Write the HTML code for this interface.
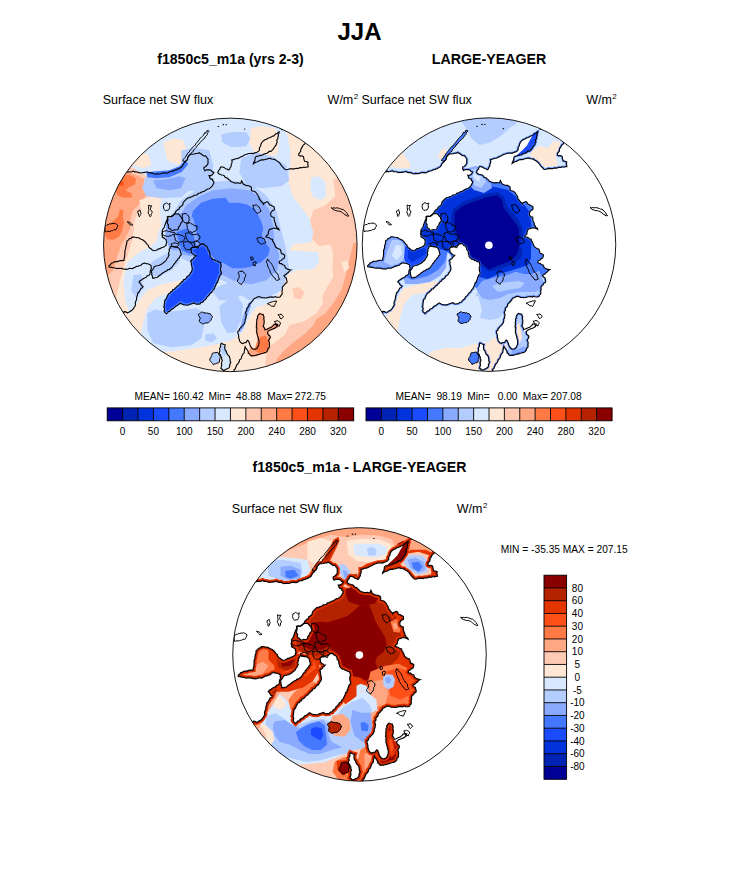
<!DOCTYPE html>
<html><head><meta charset="utf-8"><style>
html,body{margin:0;padding:0;background:#fff;width:733px;height:882px;overflow:hidden}
svg{position:absolute;left:0;top:0}
text{font-family:"Liberation Sans",sans-serif;fill:#000}
.t{font-weight:bold}
.lb{font-size:10px}
.mn{font-size:10.2px}
.st{font-size:12.5px}
</style></head><body>
<svg width="733" height="882" viewBox="0 0 733 882">

<text x="359.5" y="39.6" text-anchor="middle" class="t" style="font-size:24px">JJA</text>
<text x="230.5" y="64" text-anchor="middle" class="t" style="font-size:14.1px">f1850c5_m1a (yrs 2-3)</text>
<text x="489" y="64" text-anchor="middle" class="t" style="font-size:14.2px">LARGE-YEAGER</text>
<text x="359.5" y="472" text-anchor="middle" class="t" style="font-size:14.1px">f1850c5_m1a - LARGE-YEAGER</text>
<text x="102.7" y="103.5" class="st">Surface net SW flux</text>
<text x="327.6" y="103.5" class="st">W/m<tspan dx="0.4" dy="-4.6" style="font-size:8px">2</tspan></text>
<text x="361.4" y="103.5" class="st">Surface net SW flux</text>
<text x="586.2" y="103.5" class="st">W/m<tspan dx="0.4" dy="-4.6" style="font-size:8px">2</tspan></text>
<text x="231.8" y="513" class="st">Surface net SW flux</text>
<text x="456.8" y="513" class="st">W/m<tspan dx="0.4" dy="-4.6" style="font-size:8px">2</tspan></text>
<text x="134.55" y="399.9" class="mn">MEAN=</text>
<text x="172.40" y="399.9" class="mn">160.42</text>
<text x="208.55" y="399.9" class="mn">Min=</text>
<text x="236.05" y="399.9" class="mn">48.88</text>
<text x="267.35" y="399.9" class="mn">Max=</text>
<text x="294.85" y="399.9" class="mn">272.75</text>
<text x="395.55" y="399.9" class="mn">MEAN=</text>
<text x="436.45" y="399.9" class="mn">98.19</text>
<text x="467.25" y="399.9" class="mn">Min=</text>
<text x="497.65" y="399.9" class="mn">0.00</text>
<text x="522.85" y="399.9" class="mn">Max=</text>
<text x="550.55" y="399.9" class="mn">207.08</text>
<text x="500.8" y="553.2" class="mn" style="font-size:10.2px" xml:space="preserve">MIN = -35.35 MAX = 207.15</text>
<rect x="107.20" y="407.9" width="15.71" height="12.9" fill="#000096"/>
<rect x="122.61" y="407.9" width="15.71" height="12.9" fill="#0023b4"/>
<rect x="138.01" y="407.9" width="15.71" height="12.9" fill="#0033dc"/>
<rect x="153.42" y="407.9" width="15.71" height="12.9" fill="#1a4bff"/>
<rect x="168.82" y="407.9" width="15.71" height="12.9" fill="#4478ff"/>
<rect x="184.23" y="407.9" width="15.71" height="12.9" fill="#89aaff"/>
<rect x="199.64" y="407.9" width="15.71" height="12.9" fill="#b4cdff"/>
<rect x="215.04" y="407.9" width="15.71" height="12.9" fill="#d8e9ff"/>
<rect x="230.45" y="407.9" width="15.71" height="12.9" fill="#ffe7d6"/>
<rect x="245.86" y="407.9" width="15.71" height="12.9" fill="#ffcab3"/>
<rect x="261.26" y="407.9" width="15.71" height="12.9" fill="#ffa682"/>
<rect x="276.67" y="407.9" width="15.71" height="12.9" fill="#ff7a45"/>
<rect x="292.07" y="407.9" width="15.71" height="12.9" fill="#ff501a"/>
<rect x="307.48" y="407.9" width="15.71" height="12.9" fill="#e43400"/>
<rect x="322.89" y="407.9" width="15.71" height="12.9" fill="#b42200"/>
<rect x="338.29" y="407.9" width="15.71" height="12.9" fill="#8a0000"/>
<line x1="122.61" y1="407.9" x2="122.61" y2="420.79999999999995" stroke="#000" stroke-width="0.9"/>
<line x1="138.01" y1="407.9" x2="138.01" y2="420.79999999999995" stroke="#000" stroke-width="0.9"/>
<line x1="153.42" y1="407.9" x2="153.42" y2="420.79999999999995" stroke="#000" stroke-width="0.9"/>
<line x1="168.82" y1="407.9" x2="168.82" y2="420.79999999999995" stroke="#000" stroke-width="0.9"/>
<line x1="184.23" y1="407.9" x2="184.23" y2="420.79999999999995" stroke="#000" stroke-width="0.9"/>
<line x1="199.64" y1="407.9" x2="199.64" y2="420.79999999999995" stroke="#000" stroke-width="0.9"/>
<line x1="215.04" y1="407.9" x2="215.04" y2="420.79999999999995" stroke="#000" stroke-width="0.9"/>
<line x1="230.45" y1="407.9" x2="230.45" y2="420.79999999999995" stroke="#000" stroke-width="0.9"/>
<line x1="245.86" y1="407.9" x2="245.86" y2="420.79999999999995" stroke="#000" stroke-width="0.9"/>
<line x1="261.26" y1="407.9" x2="261.26" y2="420.79999999999995" stroke="#000" stroke-width="0.9"/>
<line x1="276.67" y1="407.9" x2="276.67" y2="420.79999999999995" stroke="#000" stroke-width="0.9"/>
<line x1="292.07" y1="407.9" x2="292.07" y2="420.79999999999995" stroke="#000" stroke-width="0.9"/>
<line x1="307.48" y1="407.9" x2="307.48" y2="420.79999999999995" stroke="#000" stroke-width="0.9"/>
<line x1="322.89" y1="407.9" x2="322.89" y2="420.79999999999995" stroke="#000" stroke-width="0.9"/>
<line x1="338.29" y1="407.9" x2="338.29" y2="420.79999999999995" stroke="#000" stroke-width="0.9"/>
<rect x="107.2" y="407.9" width="246.5" height="12.9" fill="none" stroke="#000" stroke-width="0.9"/>
<text x="122.61" y="434.70" text-anchor="middle" class="lb">0</text>
<text x="153.42" y="434.70" text-anchor="middle" class="lb">50</text>
<text x="184.23" y="434.70" text-anchor="middle" class="lb">100</text>
<text x="215.04" y="434.70" text-anchor="middle" class="lb">150</text>
<text x="245.86" y="434.70" text-anchor="middle" class="lb">200</text>
<text x="276.67" y="434.70" text-anchor="middle" class="lb">240</text>
<text x="307.48" y="434.70" text-anchor="middle" class="lb">280</text>
<text x="338.29" y="434.70" text-anchor="middle" class="lb">320</text>
<rect x="366.00" y="407.9" width="15.68" height="12.9" fill="#000096"/>
<rect x="381.38" y="407.9" width="15.68" height="12.9" fill="#0023b4"/>
<rect x="396.75" y="407.9" width="15.68" height="12.9" fill="#0033dc"/>
<rect x="412.12" y="407.9" width="15.68" height="12.9" fill="#1a4bff"/>
<rect x="427.50" y="407.9" width="15.68" height="12.9" fill="#4478ff"/>
<rect x="442.88" y="407.9" width="15.68" height="12.9" fill="#89aaff"/>
<rect x="458.25" y="407.9" width="15.68" height="12.9" fill="#b4cdff"/>
<rect x="473.62" y="407.9" width="15.68" height="12.9" fill="#d8e9ff"/>
<rect x="489.00" y="407.9" width="15.68" height="12.9" fill="#ffe7d6"/>
<rect x="504.38" y="407.9" width="15.68" height="12.9" fill="#ffcab3"/>
<rect x="519.75" y="407.9" width="15.68" height="12.9" fill="#ffa682"/>
<rect x="535.12" y="407.9" width="15.68" height="12.9" fill="#ff7a45"/>
<rect x="550.50" y="407.9" width="15.68" height="12.9" fill="#ff501a"/>
<rect x="565.88" y="407.9" width="15.68" height="12.9" fill="#e43400"/>
<rect x="581.25" y="407.9" width="15.68" height="12.9" fill="#b42200"/>
<rect x="596.62" y="407.9" width="15.68" height="12.9" fill="#8a0000"/>
<line x1="381.38" y1="407.9" x2="381.38" y2="420.79999999999995" stroke="#000" stroke-width="0.9"/>
<line x1="396.75" y1="407.9" x2="396.75" y2="420.79999999999995" stroke="#000" stroke-width="0.9"/>
<line x1="412.12" y1="407.9" x2="412.12" y2="420.79999999999995" stroke="#000" stroke-width="0.9"/>
<line x1="427.50" y1="407.9" x2="427.50" y2="420.79999999999995" stroke="#000" stroke-width="0.9"/>
<line x1="442.88" y1="407.9" x2="442.88" y2="420.79999999999995" stroke="#000" stroke-width="0.9"/>
<line x1="458.25" y1="407.9" x2="458.25" y2="420.79999999999995" stroke="#000" stroke-width="0.9"/>
<line x1="473.62" y1="407.9" x2="473.62" y2="420.79999999999995" stroke="#000" stroke-width="0.9"/>
<line x1="489.00" y1="407.9" x2="489.00" y2="420.79999999999995" stroke="#000" stroke-width="0.9"/>
<line x1="504.38" y1="407.9" x2="504.38" y2="420.79999999999995" stroke="#000" stroke-width="0.9"/>
<line x1="519.75" y1="407.9" x2="519.75" y2="420.79999999999995" stroke="#000" stroke-width="0.9"/>
<line x1="535.12" y1="407.9" x2="535.12" y2="420.79999999999995" stroke="#000" stroke-width="0.9"/>
<line x1="550.50" y1="407.9" x2="550.50" y2="420.79999999999995" stroke="#000" stroke-width="0.9"/>
<line x1="565.88" y1="407.9" x2="565.88" y2="420.79999999999995" stroke="#000" stroke-width="0.9"/>
<line x1="581.25" y1="407.9" x2="581.25" y2="420.79999999999995" stroke="#000" stroke-width="0.9"/>
<line x1="596.62" y1="407.9" x2="596.62" y2="420.79999999999995" stroke="#000" stroke-width="0.9"/>
<rect x="366.0" y="407.9" width="246.0" height="12.9" fill="none" stroke="#000" stroke-width="0.9"/>
<text x="381.38" y="434.70" text-anchor="middle" class="lb">0</text>
<text x="412.12" y="434.70" text-anchor="middle" class="lb">50</text>
<text x="442.88" y="434.70" text-anchor="middle" class="lb">100</text>
<text x="473.62" y="434.70" text-anchor="middle" class="lb">150</text>
<text x="504.38" y="434.70" text-anchor="middle" class="lb">200</text>
<text x="535.12" y="434.70" text-anchor="middle" class="lb">240</text>
<text x="565.88" y="434.70" text-anchor="middle" class="lb">280</text>
<text x="596.62" y="434.70" text-anchor="middle" class="lb">320</text>
<rect x="544.0" y="575.20" width="22.6" height="13.05" fill="#8a0000"/>
<rect x="544.0" y="587.95" width="22.6" height="13.05" fill="#b42200"/>
<rect x="544.0" y="600.70" width="22.6" height="13.05" fill="#e43400"/>
<rect x="544.0" y="613.45" width="22.6" height="13.05" fill="#ff501a"/>
<rect x="544.0" y="626.20" width="22.6" height="13.05" fill="#ff7a45"/>
<rect x="544.0" y="638.95" width="22.6" height="13.05" fill="#ffa682"/>
<rect x="544.0" y="651.70" width="22.6" height="13.05" fill="#ffcab3"/>
<rect x="544.0" y="664.45" width="22.6" height="13.05" fill="#ffe7d6"/>
<rect x="544.0" y="677.20" width="22.6" height="13.05" fill="#d8e9ff"/>
<rect x="544.0" y="689.95" width="22.6" height="13.05" fill="#b4cdff"/>
<rect x="544.0" y="702.70" width="22.6" height="13.05" fill="#89aaff"/>
<rect x="544.0" y="715.45" width="22.6" height="13.05" fill="#4478ff"/>
<rect x="544.0" y="728.20" width="22.6" height="13.05" fill="#1a4bff"/>
<rect x="544.0" y="740.95" width="22.6" height="13.05" fill="#0033dc"/>
<rect x="544.0" y="753.70" width="22.6" height="13.05" fill="#0023b4"/>
<rect x="544.0" y="766.45" width="22.6" height="13.05" fill="#000096"/>
<line x1="544.0" y1="587.95" x2="566.6" y2="587.95" stroke="#000" stroke-width="0.9"/>
<line x1="544.0" y1="600.70" x2="566.6" y2="600.70" stroke="#000" stroke-width="0.9"/>
<line x1="544.0" y1="613.45" x2="566.6" y2="613.45" stroke="#000" stroke-width="0.9"/>
<line x1="544.0" y1="626.20" x2="566.6" y2="626.20" stroke="#000" stroke-width="0.9"/>
<line x1="544.0" y1="638.95" x2="566.6" y2="638.95" stroke="#000" stroke-width="0.9"/>
<line x1="544.0" y1="651.70" x2="566.6" y2="651.70" stroke="#000" stroke-width="0.9"/>
<line x1="544.0" y1="664.45" x2="566.6" y2="664.45" stroke="#000" stroke-width="0.9"/>
<line x1="544.0" y1="677.20" x2="566.6" y2="677.20" stroke="#000" stroke-width="0.9"/>
<line x1="544.0" y1="689.95" x2="566.6" y2="689.95" stroke="#000" stroke-width="0.9"/>
<line x1="544.0" y1="702.70" x2="566.6" y2="702.70" stroke="#000" stroke-width="0.9"/>
<line x1="544.0" y1="715.45" x2="566.6" y2="715.45" stroke="#000" stroke-width="0.9"/>
<line x1="544.0" y1="728.20" x2="566.6" y2="728.20" stroke="#000" stroke-width="0.9"/>
<line x1="544.0" y1="740.95" x2="566.6" y2="740.95" stroke="#000" stroke-width="0.9"/>
<line x1="544.0" y1="753.70" x2="566.6" y2="753.70" stroke="#000" stroke-width="0.9"/>
<line x1="544.0" y1="766.45" x2="566.6" y2="766.45" stroke="#000" stroke-width="0.9"/>
<rect x="544.0" y="575.2" width="22.6" height="204.0" fill="none" stroke="#000" stroke-width="0.9"/>
<text x="577.4" y="591.55" text-anchor="middle" class="lb">80</text>
<text x="577.4" y="604.30" text-anchor="middle" class="lb">60</text>
<text x="577.4" y="617.05" text-anchor="middle" class="lb">40</text>
<text x="577.4" y="629.80" text-anchor="middle" class="lb">30</text>
<text x="577.4" y="642.55" text-anchor="middle" class="lb">20</text>
<text x="577.4" y="655.30" text-anchor="middle" class="lb">10</text>
<text x="577.4" y="668.05" text-anchor="middle" class="lb">5</text>
<text x="577.4" y="680.80" text-anchor="middle" class="lb">0</text>
<text x="577.4" y="693.55" text-anchor="middle" class="lb">-5</text>
<text x="577.4" y="706.30" text-anchor="middle" class="lb">-10</text>
<text x="577.4" y="719.05" text-anchor="middle" class="lb">-20</text>
<text x="577.4" y="731.80" text-anchor="middle" class="lb">-30</text>
<text x="577.4" y="744.55" text-anchor="middle" class="lb">-40</text>
<text x="577.4" y="757.30" text-anchor="middle" class="lb">-60</text>
<text x="577.4" y="770.05" text-anchor="middle" class="lb">-80</text>
<defs><clipPath id="cc"><circle cx="0" cy="0" r="126.75"/></clipPath>
<g id="land"><path d="M-189.0,-144.6 L-188.2,-143.5 L-187.2,-142.7 L-186.0,-142.2 L-184.8,-141.5 L-184.0,-140.4 L-182.9,-139.7 L-182.2,-138.5 L-180.9,-138.1 L-180.0,-137.1 L-179.1,-136.2 L-178.3,-135.1 L-177.0,-134.6 L-175.9,-133.9 L-175.2,-132.7 L-174.1,-132.0 L-172.9,-131.4 L-172.3,-130.0 L-171.4,-129.1 L-170.3,-128.5 L-169.3,-127.5 L-167.9,-127.2 L-167.2,-126.0 L-166.3,-125.0 L-165.2,-124.4 L-164.0,-123.7 L-162.8,-123.2 L-162.0,-122.1 L-161.1,-121.1 L-160.4,-120.0 L-159.4,-119.1 L-158.1,-118.7 L-157.3,-117.5 L-155.9,-117.2 L-155.3,-115.9 L-154.1,-115.3 L-152.7,-114.9 L-152.2,-113.5 L-151.0,-112.9 L-150.3,-111.7 L-149.2,-111.0 L-147.7,-110.7 L-147.1,-109.5 L-146.4,-108.3 L-144.9,-108.0 L-144.0,-107.1 L-143.4,-105.8 L-141.9,-105.6 L-141.2,-104.4 L-139.9,-103.9 L-139.4,-102.4 L-138.3,-101.7 L-137.1,-101.2 L-135.8,-100.6 L-135.0,-99.6 L-134.1,-98.6 L-133.4,-97.4 L-131.9,-97.3 L-131.2,-96.1 L-130.3,-95.1 L-129.2,-94.4 L-128.4,-93.3 L-127.2,-92.7 L-126.5,-91.5 L-125.2,-91.0 L-124.2,-90.2 L-123.1,-89.5 L-122.2,-88.5 L-121.1,-87.8 L-120.2,-86.8 L-119.0,-86.3 L-117.9,-85.5 L-116.9,-84.7 L-116.2,-83.5 L-115.3,-82.6 L-114.2,-81.9 L-112.9,-81.4 L-112.4,-80.0 L-111.4,-79.1 L-110.5,-78.2 L-109.4,-77.4 L-108.5,-76.5 L-107.5,-75.7 L-106.2,-75.2 L-105.1,-74.5 L-104.3,-73.4 L-103.2,-72.7 L-101.7,-73.2 L-100.0,-72.9 L-98.4,-73.1 L-96.9,-73.8 L-95.4,-73.0 L-93.7,-72.9 L-92.0,-72.6 L-90.6,-71.9 L-89.1,-72.2 L-87.6,-72.1 L-86.1,-72.5 L-84.5,-72.6 L-83.0,-73.1 L-81.5,-72.2 L-80.0,-72.0 L-78.3,-72.1 L-76.8,-71.1 L-75.0,-70.6 L-73.2,-71.2 L-71.3,-70.9 L-69.8,-71.2 L-68.4,-71.7 L-67.0,-72.1 L-65.4,-72.0 L-63.7,-71.7 L-62.1,-72.1 L-60.7,-73.1 L-59.0,-73.6 L-57.3,-73.8 L-55.8,-74.9 L-54.1,-75.0 L-53.0,-75.9 L-51.5,-76.0 L-50.5,-77.0 L-49.2,-77.5 L-48.1,-78.5 L-47.5,-79.9 L-46.6,-81.5 L-45.1,-82.4 L-44.6,-83.7 L-43.3,-84.5 L-42.6,-85.7 L-42.7,-87.4 L-41.8,-88.9 L-40.2,-90.6 L-37.7,-90.6 L-36.0,-90.9 L-34.4,-91.4 L-32.7,-91.4 L-31.2,-92.2 L-30.0,-91.4 L-28.7,-90.6 L-27.6,-89.6 L-26.3,-88.9 L-24.9,-89.0 L-23.8,-88.1 L-23.1,-86.8 L-22.2,-85.7 L-22.3,-84.3 L-22.3,-83.0 L-22.2,-81.6 L-22.9,-80.3 L-23.8,-79.1 L-25.0,-78.2 L-26.3,-77.5 L-26.4,-75.7 L-25.4,-74.2 L-23.9,-75.1 L-22.2,-75.0 L-20.4,-75.1 L-18.9,-74.2 L-17.9,-73.0 L-16.4,-72.6 L-17.0,-71.2 L-18.1,-70.1 L-19.6,-69.3 L-21.3,-69.3 L-20.6,-68.0 L-20.5,-66.6 L-19.2,-65.8 L-17.6,-65.6 L-17.7,-64.2 L-16.4,-63.1 L-16.5,-61.7 L-17.3,-60.5 L-17.9,-59.1 L-18.9,-58.0 L-20.0,-57.0 L-21.2,-56.1 L-22.7,-55.9 L-24.0,-55.1 L-25.2,-54.3 L-26.3,-53.5 L-27.7,-53.1 L-29.1,-52.6 L-30.4,-51.6 L-32.0,-51.6 L-33.1,-50.2 L-34.8,-49.6 L-36.4,-49.6 L-37.5,-48.3 L-39.0,-48.1 L-40.4,-47.3 L-42.1,-47.1 L-43.5,-46.2 L-45.1,-44.6 L-46.3,-43.4 L-47.2,-42.1 L-47.3,-40.3 L-48.5,-39.1 L-49.7,-38.2 L-50.9,-37.5 L-51.2,-35.8 L-52.6,-35.1 L-53.6,-34.2 L-54.6,-33.3 L-55.0,-31.9 L-56.0,-31.0 L-57.0,-29.9 L-58.3,-29.2 L-59.4,-28.2 L-60.8,-28.1 L-62.1,-28.2 L-62.5,-26.4 L-63.5,-24.8 L-64.2,-23.1 L-64.9,-21.4 L-65.2,-20.1 L-65.7,-18.9 L-66.0,-17.6 L-67.1,-16.1 L-68.1,-14.6 L-67.9,-13.2 L-67.9,-11.9 L-68.5,-10.5 L-67.8,-9.2 L-68.1,-7.8 L-66.0,-6.6 L-64.0,-5.0 L-64.1,-3.7 L-63.5,-2.3 L-64.3,-0.9 L-64.0,0.4 L-65.3,1.2 L-66.5,2.2 L-67.9,2.6 L-69.4,3.1 L-70.5,4.0 L-72.0,3.9 L-73.0,4.9 L-74.6,5.6 L-76.3,5.9 L-78.0,5.1 L-79.5,3.9 L-80.7,3.0 L-81.7,1.8 L-82.1,0.4 L-83.1,-0.5 L-84.0,-1.6 L-84.8,-2.7 L-85.8,-3.7 L-87.3,-4.9 L-89.0,-5.6 L-90.2,-6.2 L-91.3,-7.1 L-93.2,-7.3 L-95.0,-7.6 L-96.5,-7.9 L-98.1,-7.8 L-99.3,-6.5 L-101.0,-6.1 L-102.0,-4.7 L-103.5,-3.7 L-103.5,-2.3 L-103.6,-0.9 L-104.1,0.4 L-104.5,1.7 L-104.5,3.2 L-104.9,4.5 L-105.5,6.1 L-105.4,7.8 L-105.5,9.4 L-105.6,10.9 L-105.8,12.4 L-106.3,13.9 L-106.3,15.4 L-107.9,15.7 L-109.5,15.6 L-111.0,15.9 L-112.5,16.7 L-114.2,16.6 L-115.8,16.8 L-117.3,17.8 L-119.0,18.4 L-119.9,19.9 L-121.3,20.9 L-121.3,22.2 L-120.0,22.4 L-118.6,22.5 L-117.3,22.8 L-116.0,22.9 L-114.6,23.4 L-113.3,23.7 L-111.8,23.4 L-110.4,23.6 L-109.0,23.5 L-107.7,23.9 L-106.4,24.4 L-105.0,24.2 L-103.6,24.5 L-102.2,24.2 L-100.8,23.4 L-99.4,23.6 L-97.8,23.7 L-96.4,22.9 L-95.0,22.4 L-93.9,21.5 L-92.4,21.6 L-91.3,20.9 L-89.6,20.6 L-88.5,19.4 L-87.2,18.7 L-85.8,18.2 L-84.2,18.7 L-82.5,18.9 L-81.2,19.4 L-80.0,20.0 L-79.0,20.9 L-79.4,22.2 L-78.8,23.6 L-79.5,24.9 L-80.1,26.2 L-80.1,27.7 L-80.3,29.1 L-81.4,30.4 L-83.0,30.9 L-84.1,32.4 L-85.8,33.2 L-87.2,33.9 L-88.5,34.9 L-90.2,35.8 L-91.3,37.3 L-90.2,38.2 L-89.5,39.4 L-88.7,40.8 L-87.2,41.4 L-87.8,42.8 L-89.4,43.5 L-90.0,44.9 L-90.8,46.1 L-91.4,47.4 L-92.6,48.2 L-92.8,50.1 L-93.5,51.9 L-93.7,53.7 L-94.0,55.4 L-94.7,56.8 L-95.1,58.3 L-94.7,59.9 L-95.4,61.3 L-96.2,62.6 L-97.0,63.9 L-98.6,65.7 L-100.1,66.3 L-101.5,67.3 L-103.0,67.9 L-104.5,67.0 L-106.3,66.8 L-106.8,68.0 L-107.4,69.3 L-108.1,70.4 L-109.5,71.1 L-110.1,72.2 L-111.2,73.1 L-111.9,74.2 L-112.6,75.3 L-112.6,76.9 L-114.0,77.6 L-114.7,78.7 L-115.4,79.8 L-116.2,80.9 L-117.1,81.9 L-117.6,83.1 L-118.1,84.4 L-119.0,85.4 L-189.0,85.4Z"/><path d="M-63.0,-28.1 L-61.2,-28.6 L-59.4,-28.2 L-58.0,-28.7 L-57.0,-29.6 L-56.0,-30.6 L-54.7,-31.0 L-53.3,-30.9 L-52.0,-31.0 L-50.9,-30.0 L-50.0,-28.8 L-49.1,-27.7 L-47.8,-26.9 L-47.6,-25.4 L-47.8,-23.9 L-48.5,-22.6 L-49.6,-21.5 L-50.1,-19.9 L-51.0,-18.6 L-51.9,-17.6 L-51.9,-16.0 L-53.0,-15.1 L-54.5,-14.9 L-56.0,-15.1 L-57.5,-14.4 L-59.0,-14.6 L-59.9,-16.0 L-61.5,-16.6 L-62.1,-18.7 L-61.8,-20.1 L-62.9,-21.3 L-63.0,-22.7 L-62.6,-24.1 L-62.3,-25.5 L-63.0,-26.7Z"/><path d="M-12.5,-72.3 L-11.4,-71.1 L-10.0,-70.3 L-8.4,-69.9 L-7.0,-69.7 L-5.9,-69.0 L-5.1,-67.6 L-3.9,-67.0 L-2.6,-66.6 L-1.7,-65.4 L-0.3,-64.5 L0.6,-63.3 L1.8,-62.8 L3.1,-62.4 L4.3,-62.0 L5.6,-61.7 L7.2,-62.1 L8.9,-61.8 L10.5,-61.7 L11.3,-64.1 L12.2,-62.6 L12.9,-60.9 L14.3,-60.2 L15.6,-59.5 L17.1,-59.2 L18.7,-59.2 L19.9,-58.4 L21.1,-57.6 L21.2,-55.9 L21.1,-54.3 L22.4,-53.9 L23.8,-53.6 L25.0,-53.0 L26.0,-51.9 L26.8,-50.8 L27.5,-49.6 L28.3,-48.5 L28.8,-47.2 L28.9,-45.7 L29.9,-44.7 L30.7,-43.7 L31.5,-42.6 L32.6,-41.8 L33.2,-40.6 L34.0,-41.9 L35.3,-42.4 L36.5,-43.1 L37.8,-42.6 L38.5,-41.4 L39.2,-40.2 L40.6,-39.8 L42.1,-38.8 L43.8,-38.1 L44.1,-36.5 L43.8,-34.9 L42.5,-34.4 L41.5,-33.5 L40.6,-32.4 L40.3,-30.8 L40.6,-29.1 L42.0,-27.9 L43.8,-27.5 L43.8,-25.8 L44.0,-24.2 L44.6,-22.6 L45.3,-21.3 L45.2,-19.7 L46.3,-18.5 L46.7,-17.1 L48.2,-16.5 L48.7,-15.2 L47.2,-16.0 L45.5,-16.6 L43.8,-16.9 L42.2,-16.3 L40.5,-15.8 L38.9,-15.2 L38.6,-13.8 L37.9,-12.6 L38.1,-11.1 L37.3,-10.0 L36.1,-9.2 L35.6,-7.9 L37.3,-7.6 L38.9,-7.0 L40.4,-5.8 L42.2,-5.4 L42.3,-3.9 L43.3,-2.7 L43.8,-1.3 L44.6,0.1 L45.1,1.7 L46.3,2.8 L47.8,3.8 L49.6,4.4 L50.3,5.4 L50.7,7.0 L51.1,8.7 L52.9,9.2 L54.4,10.3 L54.2,12.0 L53.6,13.6 L52.1,14.2 L51.1,15.5 L49.5,16.0 L48.7,17.7 L49.7,18.7 L51.3,18.7 L52.2,19.9 L53.6,20.1 L54.6,21.0 L54.8,22.5 L55.8,23.3 L56.8,24.2 L58.2,24.5 L59.5,24.8 L60.9,25.0 L59.8,25.7 L58.8,26.6 L58.0,27.6 L56.8,28.3 L55.9,29.4 L54.7,30.0 L53.6,30.8 L54.5,32.3 L56.0,33.2 L56.3,34.9 L56.8,36.5 L56.4,37.9 L54.9,38.5 L54.4,39.8 L53.4,40.7 L52.4,41.7 L51.9,43.1 L52.2,44.7 L51.6,46.4 L51.9,48.0 L51.7,49.5 L50.5,50.6 L50.0,52.0 L48.7,52.3 L47.3,52.4 L46.0,52.2 L44.6,51.7 L43.2,52.5 L41.8,52.0 L40.4,52.2 L38.9,52.1 L37.5,52.7 L35.6,53.1 L33.7,52.9 L31.8,52.9 L30.0,52.2 L28.6,51.7 L27.1,52.0 L25.8,52.9 L24.2,53.5 L23.0,54.5 L22.6,55.8 L21.5,56.6 L20.8,57.8 L19.7,58.6 L18.7,59.9 L18.5,61.6 L17.3,62.7 L16.3,63.9 L16.6,65.6 L15.6,66.8 L15.3,68.4 L16.1,70.1 L15.6,71.7 L15.6,73.4 L14.7,74.9 L14.8,76.6 L14.3,78.2 L13.5,79.5 L12.4,80.7 L11.2,81.7 L10.3,83.0 L9.1,84.0 L9.0,85.5 L7.5,86.5 L7.5,88.1 L8.1,89.7 L8.5,91.3 L8.3,93.0 L9.0,94.3 L9.2,95.8 L9.9,97.1 L11.0,98.1 L12.4,98.7 L13.9,97.9 L15.6,97.9 L16.3,96.5 L17.3,95.4 L18.5,96.4 L18.9,97.9 L19.5,99.2 L19.8,100.7 L20.6,102.0 L21.6,103.4 L23.0,104.4 L24.8,104.4 L26.3,103.6 L27.3,102.5 L27.9,101.1 L28.6,99.5 L28.7,97.9 L28.7,96.2 L28.4,94.9 L27.8,93.7 L27.9,92.3 L27.2,91.0 L27.1,89.7 L26.4,88.1 L26.5,86.4 L26.3,84.8 L26.7,83.3 L25.9,81.9 L26.4,80.5 L26.3,79.0 L26.3,77.5 L26.6,76.1 L26.4,74.6 L27.4,73.2 L27.1,71.7 L28.1,70.0 L29.5,68.7 L31.1,69.3 L32.8,69.6 L33.1,70.9 L33.8,72.2 L33.4,73.7 L33.7,75.0 L33.9,76.7 L33.7,78.3 L33.5,79.9 L32.8,81.4 L33.7,82.4 L34.4,83.6 L34.6,85.0 L36.2,84.5 L37.6,83.8 L39.1,83.2 L40.6,82.7 L41.7,81.7 L42.9,80.8 L43.7,79.5 L45.5,79.2 L47.3,79.5 L46.4,81.9 L45.2,82.6 L44.1,83.5 L42.8,83.9 L41.2,84.5 L39.7,85.1 L38.2,85.9 L37.4,87.1 L37.3,88.6 L38.0,89.9 L39.3,90.8 L40.0,92.2 L39.5,93.5 L38.8,94.7 L38.2,95.9 L39.0,97.2 L39.2,98.5 L39.0,99.9 L39.1,101.3 L38.8,102.9 L37.5,103.9 L37.3,105.6 L36.4,106.8 L35.2,107.7 L33.8,108.0 L32.4,108.4 L31.0,108.6 L29.7,109.3 L28.2,109.5 L26.9,110.0 L25.5,110.4 L24.0,110.8 L22.5,110.6 L21.0,110.9 L19.8,110.3 L19.3,108.9 L18.0,108.4 L18.0,106.9 L17.2,105.6 L16.5,104.4 L15.6,103.2 L14.8,101.9 L14.5,103.4 L14.2,104.9 L14.0,106.4 L13.8,107.9 L12.8,108.9 L12.1,110.1 L11.5,111.4 L11.2,112.8 L10.6,114.1 L9.3,115.0 L9.0,116.4 L8.4,117.7 L7.5,118.9 L6.4,119.9 L6.0,121.4 L5.3,122.5 L5.0,123.9 L3.7,124.8 L3.7,126.3 L3.0,127.4 L3.5,128.7 L2.8,130.1 L3.4,131.4 L3.2,132.7 L2.6,134.1 L2.8,135.4 L3.5,136.7 L3.1,138.1 L3.1,139.4 L3.0,140.7 L3.3,142.1 L2.9,143.4 L3.5,144.7 L3.2,146.1 L3.1,147.4 L2.5,148.7 L3.5,150.1 L2.7,151.4 L3.3,152.7 L2.9,154.1 L3.1,155.4 L3.0,156.7 L2.7,158.1 L3.1,159.4 L3.4,160.7 L3.4,162.1 L3.5,163.4 L2.6,164.7 L2.8,166.1 L2.5,167.4 L2.8,168.7 L3.5,170.1 L2.8,171.4 L2.7,172.7 L2.8,174.1 L3.0,175.4 L211.0,175.4 L211.0,-144.6 L86.0,-144.6 L85.7,-143.3 L85.5,-142.0 L85.0,-140.7 L84.3,-139.5 L84.6,-138.1 L84.0,-136.9 L83.7,-135.6 L82.8,-134.4 L82.7,-133.1 L82.2,-131.8 L82.0,-130.5 L82.2,-129.1 L82.0,-127.8 L81.3,-126.6 L81.3,-125.2 L80.7,-124.0 L80.1,-122.8 L79.6,-121.5 L79.6,-120.2 L79.0,-118.9 L79.4,-117.4 L78.8,-116.2 L77.8,-115.1 L78.4,-113.6 L77.8,-112.4 L77.8,-111.0 L77.4,-109.7 L76.2,-108.6 L75.8,-107.4 L75.8,-106.0 L76.1,-104.6 L75.6,-103.3 L75.0,-102.1 L74.4,-100.8 L73.2,-100.0 L72.4,-98.9 L71.9,-97.7 L71.0,-96.6 L70.5,-95.2 L70.4,-93.6 L69.5,-92.4 L68.5,-91.1 L68.5,-89.5 L70.0,-88.8 L71.7,-89.1 L73.1,-88.3 L73.5,-86.8 L73.7,-85.2 L74.3,-83.7 L76.1,-83.4 L77.8,-82.5 L77.4,-81.0 L77.8,-79.4 L77.8,-77.9 L76.3,-77.9 L74.9,-77.4 L73.4,-77.8 L72.0,-77.1 L70.5,-77.3 L69.1,-77.0 L67.7,-76.4 L66.2,-76.7 L64.8,-76.4 L63.5,-75.8 L62.0,-76.1 L60.7,-76.0 L59.3,-76.2 L58.1,-75.6 L56.5,-75.1 L54.8,-75.3 L53.9,-76.4 L52.9,-77.4 L51.9,-78.5 L51.0,-79.6 L50.2,-80.8 L49.3,-82.0 L48.2,-82.9 L47.0,-83.8 L45.7,-84.4 L44.5,-85.5 L43.0,-85.6 L41.4,-85.9 L39.9,-86.5 L38.1,-86.4 L36.5,-85.8 L35.0,-85.6 L33.5,-85.0 L31.9,-85.0 L30.4,-84.8 L29.0,-84.1 L27.5,-83.2 L25.8,-82.9 L24.4,-82.1 L23.1,-81.1 L23.4,-82.4 L24.0,-83.6 L24.7,-84.7 L24.7,-86.1 L24.9,-87.4 L26.1,-88.5 L27.6,-88.6 L29.0,-89.1 L30.6,-89.5 L32.3,-89.9 L33.7,-90.9 L35.2,-91.3 L36.7,-91.7 L38.0,-92.6 L39.0,-93.7 L40.7,-93.4 L41.7,-94.5 L43.1,-95.9 L44.0,-97.6 L44.8,-98.8 L45.9,-100.0 L46.2,-101.5 L46.9,-102.9 L46.4,-104.6 L47.5,-106.0 L47.5,-107.6 L48.1,-108.9 L47.8,-110.4 L48.7,-111.7 L48.8,-113.1 L47.7,-112.4 L46.8,-111.3 L45.4,-111.1 L44.5,-110.1 L43.5,-109.0 L42.0,-108.7 L40.8,-107.8 L39.2,-107.1 L37.5,-106.6 L36.2,-105.6 L34.6,-105.1 L33.3,-104.2 L32.0,-103.1 L31.3,-101.9 L30.6,-100.7 L30.5,-99.3 L29.8,-98.1 L29.0,-96.8 L29.3,-95.3 L28.3,-93.7 L26.6,-92.7 L24.6,-92.1 L23.1,-91.3 L21.5,-91.6 L20.0,-91.4 L18.5,-91.4 L17.1,-90.9 L15.7,-90.4 L14.3,-90.1 L13.2,-89.2 L12.0,-88.6 L10.2,-87.9 L8.6,-86.8 L6.8,-86.3 L5.0,-86.1 L3.3,-85.3 L1.5,-85.0 L1.8,-83.1 L1.5,-81.5 L0.9,-80.1 L0.8,-78.4 L-0.2,-77.2 L-0.6,-75.7 L-1.8,-74.8 L-3.0,-75.8 L-4.7,-76.1 L-5.9,-77.2 L-7.5,-77.9 L-9.2,-78.1 L-10.1,-77.1 L-10.4,-75.7 L-11.3,-74.7 L-12.1,-73.6Z"/><path d="M-39.0,3.1 L-37.7,2.5 L-36.2,2.5 L-34.9,2.0 L-33.5,1.8 L-32.1,1.2 L-30.7,0.5 L-29.7,-0.7 L-28.1,-1.0 L-26.5,-0.8 L-25.5,0.7 L-24.0,1.1 L-23.1,2.2 L-22.4,3.4 L-22.4,5.0 L-21.3,6.0 L-20.6,7.2 L-20.7,8.9 L-20.1,10.4 L-19.9,12.0 L-18.7,13.5 L-17.2,14.7 L-15.7,14.8 L-14.5,15.8 L-13.1,16.1 L-11.6,17.2 L-9.7,17.5 L-9.4,19.2 L-9.0,20.9 L-9.7,22.7 L-9.8,24.6 L-9.5,26.4 L-8.9,28.1 L-9.1,29.5 L-10.4,30.4 L-10.7,31.7 L-11.4,33.1 L-11.7,34.7 L-12.5,36.1 L-12.6,37.5 L-14.0,38.3 L-14.2,39.7 L-14.8,41.2 L-15.6,42.5 L-16.0,44.1 L-17.2,45.0 L-18.0,46.3 L-18.7,47.6 L-20.2,48.5 L-21.0,50.1 L-22.2,51.2 L-23.4,52.2 L-24.0,53.6 L-24.9,54.7 L-26.5,55.7 L-27.5,57.4 L-29.2,57.6 L-30.3,59.0 L-32.0,59.2 L-33.4,59.4 L-34.7,59.1 L-35.9,58.0 L-37.3,58.3 L-38.7,59.0 L-40.3,59.4 L-41.7,60.1 L-43.2,60.3 L-44.7,60.1 L-46.2,60.1 L-47.4,59.6 L-48.6,59.0 L-49.7,58.3 L-51.0,59.1 L-52.2,60.0 L-53.3,60.9 L-54.7,61.4 L-55.8,62.5 L-56.8,63.6 L-58.3,64.1 L-59.4,65.1 L-60.4,66.3 L-61.9,66.7 L-62.8,67.9 L-63.9,68.9 L-65.7,67.2 L-66.3,65.9 L-65.8,64.4 L-65.9,63.1 L-66.6,61.8 L-65.9,60.5 L-66.1,59.2 L-65.7,57.9 L-65.7,56.5 L-65.3,55.0 L-64.0,54.0 L-63.6,52.6 L-63.0,51.2 L-62.3,50.0 L-61.6,48.7 L-60.1,48.1 L-59.5,46.8 L-58.0,46.3 L-57.5,44.6 L-55.9,44.4 L-55.0,43.2 L-53.9,42.2 L-52.9,41.1 L-51.5,40.5 L-50.8,39.2 L-49.5,38.3 L-48.8,37.0 L-47.4,36.4 L-46.8,34.8 L-45.3,34.3 L-44.0,33.2 L-43.2,31.6 L-41.7,30.8 L-40.6,29.7 L-40.1,28.3 L-39.1,27.2 L-38.4,25.8 L-38.0,24.4 L-38.2,22.8 L-38.6,21.0 L-39.1,19.3 L-38.9,17.6 L-39.7,16.1 L-38.5,14.9 L-37.0,14.0 L-36.4,12.6 L-35.0,11.8 L-34.2,10.6 L-35.7,10.4 L-36.8,9.5 L-37.8,8.7 L-39.0,7.9 L-38.9,6.3 L-39.4,4.7Z"/><path d="M-59.9,1.8 L-58.6,1.6 L-57.3,1.5 L-56.0,2.0 L-54.5,2.3 L-53.0,2.4 L-51.7,3.1 L-50.4,4.5 L-50.0,6.4 L-49.4,8.2 L-49.0,10.0 L-50.4,11.2 L-51.0,12.9 L-52.3,13.9 L-53.1,15.4 L-54.2,16.2 L-54.6,17.6 L-55.7,18.4 L-56.5,19.4 L-57.2,20.6 L-57.9,21.7 L-58.7,22.8 L-59.9,23.6 L-60.9,24.6 L-62.6,24.7 L-63.5,25.9 L-65.3,26.5 L-66.7,27.7 L-68.3,28.5 L-69.5,29.9 L-71.0,30.6 L-72.2,31.8 L-73.5,32.6 L-75.0,32.8 L-76.3,33.2 L-77.6,33.2 L-77.9,31.5 L-78.5,29.9 L-78.5,28.1 L-79.0,26.3 L-77.8,25.1 L-76.9,23.8 L-76.3,22.2 L-74.8,21.1 L-73.0,20.9 L-71.2,20.3 L-69.4,19.5 L-67.8,18.6 L-66.5,17.4 L-65.2,16.4 L-64.0,15.4 L-63.6,14.0 L-62.5,12.9 L-61.9,11.4 L-61.2,10.0 L-61.8,8.8 L-61.5,7.4 L-60.9,6.0 L-61.2,4.5 L-60.2,3.3Z"/><path d="M-9.0,98.4 L-7.7,99.0 L-6.4,99.6 L-5.0,99.9 L-5.6,101.6 L-5.5,103.4 L-5.2,105.1 L-4.0,106.4 L-3.6,107.9 L-3.1,109.3 L-2.0,110.4 L-0.8,111.7 L-0.5,113.4 L-0.1,114.7 L-0.3,116.2 L0.5,117.4 L0.0,118.7 L-0.6,120.0 L-0.5,121.4 L-1.4,123.0 L-3.0,123.9 L-4.3,124.4 L-5.6,125.2 L-7.0,125.4 L-8.2,124.4 L-9.5,123.4 L-8.9,121.7 L-8.5,119.9 L-8.9,118.3 L-8.5,116.9 L-8.0,115.4 L-8.7,114.2 L-8.6,112.6 L-9.5,111.4 L-9.7,110.0 L-10.9,108.9 L-11.0,107.4 L-10.3,105.8 L-10.7,104.0 L-10.0,102.4 L-9.5,101.1 L-9.7,99.6Z"/></g>
<g id="outl"><path d="M-47.5,-84.1 L-47.0,-85.4 L-46.0,-86.5 L-45.1,-87.5 L-44.4,-88.7 L-43.6,-89.8 L-43.0,-91.1 L-42.2,-92.1 L-41.1,-92.9 L-40.4,-94.1 L-39.8,-95.3 L-38.7,-96.1 L-38.1,-97.3 L-37.0,-98.1 L-35.9,-98.9 L-35.0,-99.9 L-34.5,-101.2 L-33.7,-102.2 L-32.6,-103.0 L-32.0,-104.3 L-31.0,-105.1 L-30.4,-106.2 L-29.6,-107.1 L-28.7,-108.0 L-27.8,-108.7 L-26.8,-109.5 L-26.5,-110.8 L-25.5,-111.6 L-24.2,-112.3 L-23.3,-113.6 L-22.2,-114.6 L-21.2,-113.6 L-22.2,-112.6 L-22.8,-111.5 L-23.1,-110.1 L-24.0,-109.1 L-25.0,-108.2 L-25.6,-106.9 L-26.5,-105.8 L-27.6,-105.0 L-28.7,-104.2 L-29.5,-103.1 L-30.3,-102.2 L-30.9,-101.1 L-32.1,-100.5 L-32.9,-99.6 L-33.3,-98.3 L-34.2,-97.5 L-35.0,-96.6 L-35.9,-95.7 L-36.8,-94.8 L-37.1,-93.4 L-38.2,-92.6 L-39.2,-91.8 L-39.8,-90.7 L-40.5,-89.6 L-41.4,-88.6 L-42.2,-87.6 L-42.8,-86.4 L-43.4,-85.2 L-44.3,-84.2 L-45.0,-83.1 L-46.2,-83.6Z"/><path d="M-125.5,-18.6 L-124.3,-19.2 L-123.4,-20.1 L-121.9,-20.1 L-121.0,-21.1 L-119.7,-20.9 L-118.5,-21.4 L-117.2,-21.3 L-116.0,-21.6 L-114.7,-21.1 L-113.6,-20.5 L-112.5,-19.6 L-112.8,-18.2 L-113.6,-17.0 L-114.0,-15.6 L-115.2,-15.0 L-116.6,-15.2 L-117.7,-14.1 L-119.0,-14.1 L-120.2,-13.7 L-121.3,-13.4 L-122.6,-13.7 L-123.8,-13.2 L-125.0,-13.1 L-125.1,-14.5 L-125.4,-15.8 L-125.3,-17.2Z"/><path d="M-103.0,-23.1 L-101.4,-22.9 L-100.0,-22.1 L-98.8,-21.0 L-97.5,-20.1 L-98.7,-19.7 L-100.0,-19.8 L-100.9,-21.0 L-101.9,-22.1Z"/><path d="M-92.5,-33.6 L-91.3,-34.0 L-90.5,-35.1 L-90.0,-33.9 L-89.8,-32.7 L-89.2,-31.6 L-90.0,-30.5 L-90.2,-29.2 L-91.0,-28.1 L-91.7,-29.4 L-91.7,-30.9 L-92.4,-32.1Z"/><path d="M-82.0,-39.6 L-80.3,-39.0 L-78.5,-39.1 L-79.3,-38.1 L-79.7,-36.8 L-80.0,-35.6 L-79.2,-34.7 L-78.6,-33.7 L-78.0,-32.6 L-78.7,-31.5 L-79.2,-30.4 L-79.1,-29.1 L-80.0,-28.1 L-80.9,-29.1 L-81.1,-30.6 L-82.0,-31.6 L-82.1,-33.0 L-81.5,-34.3 L-81.5,-35.6 L-81.8,-36.9 L-81.7,-38.3Z"/><path d="M-66.5,-40.6 L-65.1,-41.1 L-64.0,-42.1 L-62.9,-41.4 L-62.0,-40.6 L-60.2,-41.6 L-60.5,-40.3 L-60.8,-39.0 L-60.5,-37.6 L-61.1,-36.0 L-62.0,-34.6 L-63.5,-34.6 L-65.0,-34.1 L-66.0,-35.3 L-66.7,-36.6 L-66.9,-37.9 L-66.7,-39.3Z"/><path d="M-32.0,69.4 L-30.9,68.9 L-29.8,68.3 L-29.0,67.4 L-27.6,67.2 L-26.4,68.1 L-25.0,67.9 L-23.8,68.4 L-22.4,68.1 L-21.3,68.9 L-20.0,68.9 L-19.2,70.3 L-18.0,71.4 L-18.1,72.6 L-19.0,73.6 L-19.0,74.9 L-19.9,76.0 L-21.0,76.9 L-22.0,77.9 L-23.2,78.0 L-24.4,78.1 L-25.6,78.3 L-26.8,78.9 L-28.0,78.9 L-29.0,78.1 L-30.2,77.5 L-31.0,76.4 L-30.7,74.8 L-30.0,73.4 L-30.7,72.1 L-31.6,70.9Z"/><path d="M8.0,27.4 L9.3,26.7 L10.7,26.5 L12.0,25.9 L12.6,27.0 L13.7,27.7 L14.6,28.5 L15.5,29.4 L15.3,30.6 L15.2,31.9 L14.2,32.9 L14.1,34.2 L14.0,35.4 L13.4,36.6 L12.4,37.6 L11.6,38.7 L11.0,39.9 L10.2,38.8 L8.9,38.3 L7.9,37.4 L7.0,36.4 L7.3,35.1 L8.1,33.9 L8.8,32.8 L9.0,31.4 L8.8,30.0 L8.1,28.8Z"/><path d="M37.0,14.2 L38.2,15.0 L38.8,16.5 L39.8,17.6 L41.0,18.4 L41.6,19.5 L42.2,20.7 L42.7,21.8 L43.3,22.9 L43.7,24.1 L44.0,25.4 L45.0,26.3 L45.4,27.6 L46.6,28.2 L47.4,29.2 L48.0,30.4 L48.1,31.8 L48.6,33.2 L49.4,34.4 L47.8,35.2 L46.0,35.4 L45.1,34.5 L44.6,33.1 L43.4,32.5 L42.7,31.3 L42.0,30.3 L41.0,29.4 L40.6,28.2 L39.7,27.2 L39.7,25.8 L39.2,24.6 L38.5,23.6 L38.0,22.4 L37.4,21.2 L37.2,19.8 L36.9,18.5 L36.0,17.4 L36.8,15.9Z"/><path d="M-18.0,108.4 L-16.8,108.0 L-15.5,107.9 L-14.2,107.7 L-13.0,107.4 L-12.0,108.2 L-11.5,109.4 L-11.0,110.6 L-10.0,111.4 L-10.2,112.6 L-10.4,113.8 L-10.8,115.0 L-10.8,116.2 L-11.0,117.4 L-12.1,118.1 L-13.5,118.1 L-14.5,119.1 L-15.9,119.1 L-17.0,119.9 L-17.6,118.6 L-18.7,117.6 L-19.6,116.5 L-20.5,115.4 L-20.4,114.1 L-19.9,113.0 L-19.0,112.0 L-18.7,110.8 L-18.3,109.6Z"/><path d="M101.0,-37.1 L102.4,-36.7 L103.8,-37.1 L105.2,-36.7 L106.6,-37.1 L108.0,-36.8 L109.2,-36.4 L110.5,-36.1 L111.6,-35.4 L112.9,-35.4 L114.0,-34.6 L115.0,-33.5 L115.9,-32.5 L117.0,-31.5 L117.4,-30.0 L118.5,-29.1 L117.0,-28.6 L116.2,-29.6 L114.8,-29.9 L114.1,-30.9 L113.0,-31.6 L112.0,-32.3 L111.0,-33.1 L109.7,-33.5 L108.4,-33.9 L107.0,-33.9 L105.6,-34.3 L104.3,-34.8 L103.0,-35.1 L102.3,-36.4Z"/><path d="M22.5,-39.6 L24.3,-39.6 L26.0,-40.1 L27.1,-39.4 L27.8,-38.2 L29.0,-37.6 L29.6,-36.3 L30.2,-35.0 L30.7,-33.6 L29.4,-33.0 L28.4,-32.0 L27.0,-31.6 L25.8,-32.4 L25.0,-33.6 L24.0,-34.6 L23.4,-35.8 L23.4,-37.1 L22.8,-38.3Z"/><path d="M26.6,-6.6 L27.7,-7.0 L28.9,-7.3 L30.0,-7.9 L31.3,-7.2 L32.6,-6.6 L34.0,-6.1 L34.2,-4.8 L34.9,-3.7 L35.6,-2.6 L34.6,-1.9 L33.4,-1.4 L32.2,-1.1 L31.0,-0.6 L30.0,-1.2 L29.2,-2.2 L28.0,-2.6 L27.7,-4.0 L27.0,-5.3Z"/><path d="M20.0,12.4 L22.0,11.9 L22.8,13.0 L23.0,14.4 L21.0,15.4 L20.8,13.8Z"/><path d="M23.0,17.4 L24.3,16.9 L25.7,16.9 L25.8,18.3 L25.1,19.5 L25.0,20.9 L23.0,20.4 L22.8,18.9Z"/><path d="M44.3,76.4 L45.7,76.4 L47.0,75.8 L48.1,76.3 L49.2,76.9 L50.0,77.9 L50.0,79.2 L49.1,80.2 L49.0,81.4 L47.5,80.9 L46.0,80.9 L45.9,79.6 L45.3,78.6 L44.8,77.5Z"/><path d="M47.6,69.9 L49.4,69.8 L51.0,69.2 L52.1,70.6 L53.3,71.9 L52.0,72.9 L51.0,74.1 L49.8,73.3 L49.4,71.9 L48.6,70.8Z"/><path d="M37.0,58.9 L38.2,58.2 L39.4,57.7 L40.7,57.3 L42.0,56.9 L43.3,56.4 L44.8,56.3 L46.2,56.1 L46.0,57.4 L45.2,58.4 L44.7,59.6 L44.3,60.8 L43.7,61.9 L42.6,61.2 L41.1,61.2 L40.0,60.4 L38.7,59.3Z"/><path d="M-48.0,-31.1 L-46.7,-30.9 L-45.3,-31.4 L-44.0,-31.1 L-42.8,-30.1 L-41.9,-28.8 L-41.0,-27.6 L-41.3,-26.2 L-41.1,-24.8 L-41.7,-23.5 L-41.5,-22.1 L-42.8,-22.2 L-44.2,-22.1 L-45.5,-22.1 L-46.4,-23.3 L-47.5,-24.5 L-48.5,-25.6 L-48.4,-27.0 L-48.0,-28.3 L-48.0,-29.7Z"/><path d="M-43.7,-21.6 L-42.4,-21.4 L-41.3,-22.2 L-40.0,-22.1 L-39.1,-21.2 L-38.0,-20.7 L-37.0,-20.1 L-35.8,-19.2 L-34.3,-19.1 L-33.0,-18.6 L-33.3,-17.3 L-33.3,-15.9 L-34.0,-14.6 L-35.3,-13.7 L-36.9,-13.2 L-38.0,-12.1 L-39.2,-13.0 L-40.7,-12.9 L-42.0,-13.6 L-42.1,-15.0 L-42.9,-16.2 L-43.0,-17.6 L-43.2,-18.9 L-43.5,-20.3Z"/><path d="M-45.0,-11.6 L-43.7,-11.7 L-42.4,-12.0 L-41.0,-11.9 L-39.8,-11.0 L-38.4,-10.6 L-37.0,-10.1 L-35.6,-10.4 L-34.2,-10.4 L-33.0,-11.1 L-31.8,-10.3 L-31.2,-8.9 L-30.0,-8.1 L-30.5,-6.8 L-31.2,-5.7 L-32.0,-4.6 L-33.2,-3.9 L-34.6,-3.6 L-35.9,-3.2 L-37.0,-2.3 L-38.2,-2.8 L-39.5,-2.8 L-40.8,-3.0 L-42.0,-3.6 L-42.8,-4.7 L-43.5,-5.8 L-44.0,-7.1 L-44.3,-8.6 L-44.7,-10.1Z"/><path d="M-56.0,-10.1 L-54.7,-10.6 L-53.3,-10.4 L-52.0,-10.6 L-50.6,-10.3 L-49.4,-9.6 L-48.0,-9.6 L-47.1,-8.7 L-46.0,-7.9 L-45.0,-7.1 L-46.0,-6.1 L-46.2,-4.7 L-47.0,-3.6 L-48.3,-3.5 L-49.5,-2.9 L-50.8,-2.8 L-52.0,-2.3 L-52.8,-3.4 L-53.9,-4.0 L-55.0,-4.6 L-55.2,-6.0 L-55.3,-7.4 L-56.1,-8.7Z"/><path d="M-47.0,-2.6 L-45.7,-2.9 L-44.3,-3.1 L-43.0,-3.4 L-41.6,-2.9 L-40.5,-1.9 L-39.0,-1.6 L-38.5,-0.5 L-37.8,0.5 L-37.0,1.4 L-38.0,2.6 L-39.2,3.6 L-40.0,4.9 L-41.3,4.7 L-42.7,4.8 L-44.0,4.9 L-45.1,3.9 L-45.7,2.6 L-46.5,1.4 L-46.3,0.0 L-46.8,-1.3Z"/><path d="M-36.5,-3.1 L-34.8,-3.7 L-33.0,-3.6 L-31.8,-3.0 L-31.0,-2.0 L-30.0,-1.1 L-30.4,0.4 L-31.6,1.6 L-32.0,3.1 L-33.3,3.0 L-34.3,2.3 L-35.5,1.9 L-35.9,0.7 L-35.7,-0.7 L-36.5,-1.8Z"/><path d="M-68.0,-13.6 L-66.7,-13.4 L-65.5,-13.8 L-64.3,-14.2 L-63.0,-14.1 L-61.9,-13.4 L-60.5,-13.4 L-59.3,-12.8 L-58.0,-12.6 L-56.4,-12.5 L-55.0,-11.6 L-56.2,-10.5 L-57.9,-10.3 L-59.0,-9.1 L-60.3,-9.2 L-61.5,-8.5 L-62.7,-8.7 L-64.0,-8.6 L-65.2,-9.0 L-66.4,-9.4 L-67.5,-10.1 L-68.1,-11.8Z"/><path d="M-59.0,-1.1 L-57.6,-1.1 L-56.4,-2.0 L-55.0,-2.1 L-53.8,-1.4 L-52.3,-1.2 L-51.0,-0.6 L-52.1,0.5 L-53.0,1.9 L-54.2,2.0 L-55.5,1.8 L-56.8,1.8 L-58.0,1.9 L-58.9,0.5Z"/></g>
<g id="dots"><ellipse cx="-11.9" cy="-118.4" rx="0.9" ry="0.5"/><ellipse cx="-7.0" cy="-120.2" rx="0.8" ry="0.6"/><ellipse cx="-4.1" cy="-120.2" rx="0.7" ry="0.6"/><ellipse cx="14.4" cy="-115.9" rx="0.8" ry="0.6"/><ellipse cx="51.5" cy="-115.3" rx="0.9" ry="0.6"/><ellipse cx="-25.5" cy="-112.1" rx="0.8" ry="0.6"/><ellipse cx="-23.5" cy="-113.8" rx="0.7" ry="0.5"/></g></defs>
<g transform="translate(230.3,244.9)"><g clip-path="url(#cc)">
<rect x="-130" y="-130" width="260" height="260" fill="#ffe7d6"/>
<path d="M103.0,-66.6 L113.0,-66.6 L123.0,-54.6 L131.0,-39.6 L151.0,-39.6 L151.0,155.4 L31.0,155.4 L37.0,102.4 L44.0,98.4 L55.0,89.4 L59.0,80.4 L74.0,76.4 L86.0,68.4 L93.0,58.4 L92.0,51.4 L96.0,43.4 L103.0,32.4 L102.0,20.4 L103.0,9.4 L100.0,-0.6 L89.0,1.4 L81.0,-6.6 L79.0,-20.6 L83.0,-34.6 L95.0,-39.6 L105.0,-48.6Z" fill="#ffcab3" />
<path d="M151.0,-6.6 L123.0,-1.6 L121.0,6.9 L115.0,32.0 L111.0,45.4 L103.0,58.4 L95.0,68.4 L86.0,74.4 L83.0,80.4 L74.0,89.4 L62.0,98.4 L52.0,107.4 L47.0,113.4 L41.0,135.4 L151.0,135.4Z" fill="#ffa682" />
<path d="M62.0,43.4 L69.0,42.4 L74.0,47.4 L71.0,54.4 L64.0,53.4Z" fill="#ffcab3" />
<path d="M111.0,17.4 L117.0,15.4 L119.0,23.4 L114.0,27.4Z" fill="#ffe7d6" />
<path d="M-134.0,-84.6 L-88.3,-74.5 L-78.3,-66.3 L-77.3,-52.7 L-82.0,-41.8 L-91.0,-34.5 L-95.5,-25.5 L-96.4,-16.4 L-97.4,-7.3 L-101.0,5.4 L-105.0,17.4 L-109.0,30.4 L-113.0,47.4 L-117.0,65.4 L-134.0,75.4Z" fill="#ffcab3" />
<path d="M-134.0,-78.6 L-100.1,-72.1 L-86.5,-66.3 L-82.0,-52.7 L-88.3,-43.6 L-97.4,-34.5 L-100.1,-25.5 L-100.1,-16.4 L-104.6,-7.3 L-109.1,0.0 L-113.0,11.4 L-117.0,25.4 L-134.0,40.4Z" fill="#ffa682" />
<path d="M-112.0,-69.6 L-101.0,-70.1 L-94.5,-66.6 L-95.0,-60.6 L-101.0,-57.6 L-105.0,-54.6 L-99.0,-51.6 L-98.0,-47.6 L-107.0,-47.1 L-113.0,-49.6 L-115.0,-56.6 L-114.0,-63.6Z" fill="#ff7a45" />
<path d="M-111.0,-63.6 L-106.4,-63.1 L-107.0,-59.0 L-111.0,-59.6Z" fill="#ff501a" />
<path d="M-110.5,-35.6 L-107.0,-34.6 L-107.5,-28.6 L-106.4,-22.6 L-108.0,-14.6 L-111.0,-8.6 L-117.0,-5.1 L-123.0,-5.6 L-126.0,-12.6 L-123.0,-20.6 L-117.0,-23.6 L-112.0,-28.6Z" fill="#ff7a45" />
<path d="M-94.0,-144.6 L56.0,-144.6 L56.0,-114.6 L60.0,-94.6 L60.0,-76.6 L58.0,-62.6 L63.0,-47.6 L71.0,-37.6 L79.0,-26.6 L83.0,-12.6 L81.0,-2.6 L63.0,-0.6 L59.0,5.4 L88.0,7.4 L89.0,17.4 L83.0,24.4 L66.0,25.4 L56.0,30.4 L51.0,43.4 L46.0,53.4 L36.0,59.4 L26.0,62.4 L21.0,69.4 L16.0,79.4 L12.0,87.4 L7.0,93.4 L-9.0,98.4 L-29.0,102.4 L-49.0,105.4 L-69.0,107.4 L-84.0,101.4 L-94.0,90.4 L-99.0,75.4 L-105.0,55.4 L-107.0,35.4 L-103.0,17.4 L-91.0,7.4 L-79.0,1.4 L-73.0,-4.6 L-72.0,-29.6 L-69.0,-44.6 L-71.0,-58.6 L-79.0,-66.6 L-91.0,-72.6 L-101.0,-80.6 L-104.0,-94.6 L-99.0,-124.6Z" fill="#d8e9ff" />
<path d="M81.0,-67.6 L89.0,-68.6 L95.0,-62.6 L96.0,-49.6 L91.0,-44.6 L83.0,-47.6 L80.0,-56.6Z" fill="#d8e9ff" />
<path d="M-99.0,-94.6 L-89.0,-94.6 L-81.0,-88.6 L-79.0,-79.6 L-87.0,-76.6 L-97.0,-79.6Z" fill="#ffe7d6" />
<path d="M-67.0,-102.6 L-57.0,-106.6 L-47.0,-104.6 L-44.0,-94.6 L-45.0,-82.6 L-53.0,-80.6 L-63.0,-84.6Z" fill="#ffe7d6" />
<path d="M21.0,-116.6 L31.0,-118.6 L45.0,-116.6 L49.0,-104.6 L47.0,-90.6 L36.0,-86.6 L25.0,-90.6 L19.0,-102.6Z" fill="#ffe7d6" />
<path d="M-91.0,-44.6 L-79.0,-48.6 L-71.0,-39.6 L-69.0,-19.6 L-75.0,-4.6 L-85.0,-0.6 L-91.0,-9.6 L-89.0,-29.6Z" fill="#ffe7d6" />
<path d="M-103.0,80.4 L-99.0,67.4 L-91.0,55.4 L-83.0,45.4 L-69.0,39.4 L-49.0,35.4 L-45.0,41.4 L-61.0,47.4 L-75.0,53.4 L-83.0,63.4 L-87.0,77.4 L-91.0,95.4Z" fill="#ffe7d6" />
<path d="M-97.0,30.4 L-89.0,29.4 L-87.0,43.4 L-94.0,53.4 L-99.0,45.4Z" fill="#b4cdff" />
<path d="M-9.0,-110.6 L3.0,-113.1 L16.0,-112.6 L20.0,-106.6 L16.0,-98.6 L1.0,-97.6 L-8.0,-102.6Z" fill="#b4cdff" />
<path d="M-49.0,-94.6 L-34.0,-96.6 L-21.0,-94.6 L-17.0,-79.6 L-19.0,-59.6 L-29.0,-52.6 L-44.0,-54.6 L-51.0,-66.6 L-49.0,-79.6Z" fill="#b4cdff" />
<path d="M-85.0,-67.6 L-69.0,-67.6 L-49.0,-71.6 L-42.0,-76.6 L-41.0,-54.6 L-49.0,-47.6 L-69.0,-46.6 L-84.0,-48.6 L-88.0,-56.6Z" fill="#b4cdff" />
<path d="M-77.0,-64.6 L-64.0,-65.6 L-51.0,-68.6 L-45.0,-66.6 L-49.0,-56.6 L-61.0,-54.6 L-74.0,-56.6Z" fill="#89aaff" />
<path d="M-84.0,-72.6 L-74.0,-73.6 L-61.0,-74.6 L-51.0,-78.6 L-45.0,-84.6 L-42.0,-80.6 L-49.0,-72.6 L-61.0,-67.6 L-74.0,-66.6 L-83.0,-67.6Z" fill="#4478ff" />
<path d="M11.0,-86.6 L26.0,-92.6 L41.0,-88.6 L56.0,-79.6 L59.0,-64.6 L51.0,-58.6 L31.0,-56.6 L16.0,-59.6 L9.0,-72.6Z" fill="#b4cdff" />
<path d="M-49.0,-44.6 L-34.0,-54.6 L-19.0,-62.6 L1.0,-64.6 L21.0,-60.6 L36.0,-49.6 L46.0,-34.6 L51.0,-14.6 L56.0,5.4 L59.0,25.4 L51.0,45.4 L36.0,53.4 L19.0,55.4 L6.0,47.4 L-4.0,37.4 L-19.0,30.4 L-34.0,20.4 L-49.0,13.4 L-61.0,5.4 L-64.0,-9.6 L-59.0,-29.6Z" fill="#b4cdff" />
<path d="M-44.0,-39.6 L-31.0,-48.6 L-17.0,-54.6 L1.0,-56.6 L19.0,-54.6 L31.0,-46.6 L39.0,-34.6 L43.0,-18.6 L44.0,-4.6 L49.0,10.4 L47.0,25.4 L36.0,35.4 L21.0,39.4 L6.0,37.4 L-5.0,31.4 L-19.0,23.4 L-34.0,13.4 L-47.0,5.4 L-55.0,-6.6 L-53.0,-24.6Z" fill="#89aaff" />
<path d="M-37.4,-34.0 L-29.2,-42.2 L-17.7,-46.2 L-4.6,-47.1 L-1.4,-42.2 L8.5,-42.2 L16.6,-40.5 L24.8,-35.6 L28.1,-29.1 L31.4,-22.5 L33.0,-16.0 L31.4,-9.4 L34.7,-2.9 L39.6,3.7 L38.0,10.2 L31.4,16.8 L21.6,21.7 L11.7,23.3 L1.9,23.3 L-6.3,18.4 L-12.8,16.8 L-19.4,10.2 L-27.6,3.7 L-34.1,-6.1 L-37.4,-16.0 L-39.0,-25.8Z" fill="#4478ff" />
<path d="M-64.0,-24.6 L-54.0,-30.6 L-44.0,-32.6 L-37.0,-26.6 L-33.0,-9.6 L-31.0,5.4 L-39.0,11.4 L-51.0,9.4 L-61.0,3.4 L-65.0,-9.6Z" fill="#89aaff" />
<path d="M-54.0,-12.6 L-44.0,-16.6 L-37.0,-10.6 L-33.0,3.4 L-41.0,9.4 L-49.0,5.4Z" fill="#4478ff" />
<clipPath id="grlc"><path d="M-39.0,3.1 L-33.5,1.8 L-28.1,-1.0 L-24.0,1.1 L-20.6,7.2 L-19.9,12.0 L-17.2,14.7 L-13.1,16.1 L-9.7,17.5 L-9.0,20.9 L-9.8,24.6 L-8.9,28.1 L-10.7,31.7 L-12.5,36.1 L-14.2,39.7 L-16.0,44.1 L-18.7,47.6 L-22.2,51.2 L-24.9,54.7 L-27.5,57.4 L-32.0,59.2 L-37.3,58.3 L-41.7,60.1 L-46.2,60.1 L-49.7,58.3 L-53.3,60.9 L-56.8,63.6 L-60.4,66.3 L-63.9,68.9 L-65.7,67.2 L-66.6,61.8 L-65.7,56.5 L-63.0,51.2 L-59.5,46.8 L-55.0,43.2 L-51.5,40.5 L-48.8,37.0 L-45.3,34.3 L-41.7,30.8 L-39.1,27.2 L-38.2,22.8 L-39.1,19.3 L-39.7,16.1 L-37.0,14.0 L-34.2,10.6 L-39.0,7.9Z"/></clipPath>
<g clip-path="url(#grlc)">
<path d="M-39.0,3.1 L-33.5,1.8 L-28.1,-1.0 L-24.0,1.1 L-20.6,7.2 L-19.9,12.0 L-17.2,14.7 L-13.1,16.1 L-9.7,17.5 L-9.0,20.9 L-9.8,24.6 L-8.9,28.1 L-10.7,31.7 L-12.5,36.1 L-14.2,39.7 L-16.0,44.1 L-18.7,47.6 L-22.2,51.2 L-24.9,54.7 L-27.5,57.4 L-32.0,59.2 L-37.3,58.3 L-41.7,60.1 L-46.2,60.1 L-49.7,58.3 L-53.3,60.9 L-56.8,63.6 L-60.4,66.3 L-63.9,68.9 L-65.7,67.2 L-66.6,61.8 L-65.7,56.5 L-63.0,51.2 L-59.5,46.8 L-55.0,43.2 L-51.5,40.5 L-48.8,37.0 L-45.3,34.3 L-41.7,30.8 L-39.1,27.2 L-38.2,22.8 L-39.1,19.3 L-39.7,16.1 L-37.0,14.0 L-34.2,10.6 L-39.0,7.9Z" fill="#1a4bff" stroke="#4478ff" stroke-width="4"/>
<path d="M-34.0,5.4 L-27.0,3.4 L-21.0,11.4 L-14.0,19.4 L-12.0,27.4 L-19.0,35.4 L-27.0,39.4 L-33.0,33.4 L-35.0,20.4Z" fill="#1a4bff" />
</g>
<path d="M-79.0,17.4 L-69.0,11.4 L-57.0,5.4 L-49.0,5.4 L-51.0,17.4 L-59.0,25.4 L-71.0,31.4 L-79.0,31.4Z" fill="#b4cdff" />
<path d="M-83.0,68.4 L-75.0,64.4 L-64.0,67.4 L-49.0,65.4 L-34.0,63.4 L-27.0,67.4 L-26.0,80.4 L-29.0,93.4 L-39.0,100.4 L-59.0,102.4 L-77.0,98.4 L-83.0,85.4Z" fill="#b4cdff" />
<path d="M-11.0,61.4 L-3.0,55.4 L7.0,51.4 L13.0,60.4 L11.0,75.4 L5.0,87.4 L-3.0,88.4 L-9.0,77.4Z" fill="#b4cdff" />
<path d="M-25.0,89.4 L-17.0,88.4 L-13.0,93.4 L-19.0,97.4 L-25.0,95.4Z" fill="#b4cdff" />
<path d="M-19.0,45.4 L-9.0,40.4 L6.0,35.4 L16.0,40.4 L11.0,50.4 L1.0,55.4 L-11.0,55.4Z" fill="#b4cdff" />
<path d="M-31.0,69.4 L-26.0,67.4 L-20.0,68.9 L-18.0,73.4 L-22.0,77.9 L-28.0,78.9 L-31.0,75.4Z" fill="#89aaff" />
<path d="M11.0,77.4 L14.0,67.4 L18.0,58.4 L22.0,55.4 L20.0,63.4 L16.0,73.4 L13.0,83.4 L9.0,88.4Z" fill="#89aaff" />
<path d="M27.1,71.7 L29.0,67.7 L33.3,68.6 L34.7,75.0 L33.8,81.4 L35.0,84.0 L39.1,82.2 L43.7,78.5 L48.3,78.5 L47.4,82.9 L43.0,84.9 L39.0,86.4 L38.5,88.4 L41.0,92.2 L39.2,95.9 L40.1,101.4 L37.4,107.8 L31.0,109.6 L25.5,111.4 L21.0,111.9 L17.0,108.4 L20.6,102.0 L23.0,103.4 L26.3,102.6 L27.0,101.1 L27.7,96.2 L26.1,89.7 L25.3,84.8 L25.3,79.0Z" fill="#ffa682" />
<path d="M28.0,93.4 L35.0,90.4 L39.0,97.4 L37.0,105.4 L30.0,108.4 L24.0,105.4Z" fill="#ff7a45" />
<path d="M1.0,95.4 L8.0,91.4 L11.0,98.4 L16.0,98.4 L19.0,103.4 L16.0,111.4 L11.0,117.4 L6.0,125.4 L-1.0,127.4 L-3.0,110.4Z" fill="#ffe7d6" />
<path d="M-9.0,98.4 L-5.0,99.9 L-5.5,103.4 L-4.0,106.4 L-2.0,110.4 L-0.5,113.4 L0.5,117.4 L-0.5,121.4 L-3.0,123.9 L-7.0,125.4 L-9.5,123.4 L-8.5,119.9 L-8.0,115.4 L-9.5,111.4 L-11.0,107.4 L-10.0,102.4Z" fill="#d8e9ff" />
<path d="M-18.0,108.4 L-13.0,107.4 L-10.0,111.4 L-11.0,117.4 L-17.0,119.9 L-20.5,115.4Z" fill="#b4cdff" />
<path d="M-9.0,100.4 L-5.0,101.4 L-3.0,107.4 L-6.0,111.4 L-9.0,107.4Z" fill="#b4cdff" />
<use href="#land" fill="none" stroke="#000" stroke-width="1.1"/>
<use href="#outl" fill="none" stroke="#000" stroke-width="1.0"/>
<use href="#dots" fill="#000"/>
</g></g>
<g transform="translate(489.0,244.6)"><g clip-path="url(#cc)">
<rect x="-130" y="-130" width="260" height="260" fill="#d8e9ff"/>
<path d="M-34.0,-128.6 L31.0,-128.6 L26.0,-119.6 L23.0,-118.4 L11.9,-108.6 L1.2,-102.0 L-9.4,-99.6 L-17.6,-106.1 L-23.0,-116.6 L-27.5,-122.6Z" fill="#b4cdff" />
<path d="M-100.0,-92.6 L-92.0,-96.6 L-87.0,-94.6 L-84.0,-87.6 L-79.0,-81.6 L-79.0,-76.6 L-93.0,-76.6 L-101.0,-78.6Z" fill="#ffe7d6" />
<path d="M-51.0,-88.6 L-48.0,-94.6 L-43.0,-97.6 L-43.0,-86.6 L-49.0,-84.6Z" fill="#ffe7d6" />
<path d="M44.0,-94.6 L51.0,-98.6 L59.0,-96.6 L64.0,-103.6 L71.0,-102.6 L71.0,-94.6 L67.0,-86.6 L69.0,-78.6 L56.0,-77.6 L46.0,-84.6 L41.0,-88.6Z" fill="#ffe7d6" />
<path d="M-106.0,85.4 L-101.0,67.4 L-93.0,55.4 L-85.0,43.4 L-69.0,39.4 L-51.0,36.4 L-47.0,40.4 L-61.0,47.4 L-77.0,50.4 L-85.0,59.4 L-89.0,73.4 L-93.0,95.4Z" fill="#ffe7d6" />
<path d="M-59.0,107.4 L-44.0,103.4 L-29.0,103.4 L-14.0,99.4 L-3.0,97.4 L3.0,99.4 L11.0,95.4 L17.0,105.4 L11.0,135.4 L-69.0,135.4Z" fill="#ffe7d6" />
<path d="M-89.0,17.4 L-77.0,10.4 L-64.0,5.4 L-49.0,0.4 L-41.0,3.4 L-43.0,23.4 L-49.0,31.4 L-59.0,37.4 L-71.0,39.4 L-84.0,39.4Z" fill="#89aaff" />
<path d="M-85.0,17.4 L-71.0,10.4 L-59.0,5.4 L-47.0,1.4 L-41.0,5.4 L-44.0,17.4 L-51.0,25.4 L-61.0,31.4 L-77.0,35.4 L-85.0,31.4Z" fill="#4478ff" />
<path d="M-121.3,20.9 L-115.8,16.8 L-106.3,15.4 L-104.9,4.5 L-103.5,-3.7 L-98.1,-7.8 L-91.3,-7.1 L-85.8,-3.7 L-81.7,1.8 L-76.3,5.9 L-79.0,20.9 L-91.3,20.9 L-99.4,23.6 L-110.4,23.6 L-121.3,22.2Z" fill="#89aaff" />
<path d="M-105.0,17.4 L-101.0,5.4 L-97.0,-4.6 L-89.0,-4.6 L-85.0,1.4 L-83.0,11.4 L-89.0,18.4 L-97.0,21.4Z" fill="#b4cdff" />
<path d="M-97.0,11.4 L-93.0,0.4 L-88.0,1.4 L-87.0,9.4 L-92.0,15.4Z" fill="#d8e9ff" />
<path d="M-84.0,1.4 L-77.0,3.4 L-69.0,1.4 L-61.0,1.4 L-59.0,11.4 L-67.0,19.4 L-75.0,23.4 L-81.0,23.4 L-85.0,13.4Z" fill="#1a4bff" />
<path d="M-81.0,5.4 L-73.0,4.4 L-65.0,3.4 L-61.0,7.4 L-69.0,13.4 L-77.0,17.4 L-81.0,13.4Z" fill="#0033dc" />
<path d="M-27.0,-68.6 L-11.0,-74.6 L7.0,-68.6 L23.0,-58.6 L37.0,-44.6 L49.0,-30.6 L51.0,-8.6 L59.0,17.4 L71.0,27.4 L56.0,31.4 L41.0,33.4 L26.0,37.4 L11.0,38.4 L-1.0,40.4 L-11.0,45.4 L-19.0,37.4 L-29.0,23.4 L-41.0,7.4 L-53.0,-0.6 L-69.0,-4.6 L-71.0,-18.6 L-65.0,-32.6 L-53.0,-44.6 L-37.0,-56.6Z" fill="#4478ff" />
<path d="M-31.0,-54.6 L-17.0,-60.6 L1.0,-58.6 L19.0,-54.6 L31.0,-44.6 L41.0,-32.6 L43.0,-12.6 L42.0,5.4 L42.0,13.4 L39.0,20.4 L30.0,23.4 L17.0,27.4 L8.0,29.8 L-1.0,34.4 L-10.4,32.2 L-21.0,21.4 L-33.0,11.4 L-45.0,5.4 L-63.0,1.4 L-69.0,-12.6 L-65.0,-30.6 L-45.0,-44.6Z" fill="#0033dc" />
<path d="M-36.0,-35.6 L-26.0,-42.6 L-13.0,-47.6 L-1.0,-51.1 L9.0,-52.6 L15.0,-47.6 L18.0,-38.6 L23.0,-32.6 L29.0,-25.6 L33.0,-17.6 L34.0,-8.6 L32.0,-2.6 L31.0,2.4 L34.0,5.4 L32.0,13.4 L23.0,19.4 L14.0,23.4 L7.0,25.4 L0.0,26.9 L-6.0,22.4 L-11.0,18.9 L-18.0,13.9 L-25.0,7.4 L-30.0,0.4 L-34.0,-8.1 L-37.0,-18.6 L-38.0,-27.6Z" fill="#0023b4" />
<path d="M-34.4,-32.0 L-26.3,-38.6 L-13.2,-43.5 L-1.7,-47.6 L8.1,-49.2 L13.0,-45.1 L14.7,-36.9 L19.6,-30.4 L24.5,-23.8 L29.4,-17.3 L30.2,-9.1 L30.1,-4.6 L30.1,2.8 L27.7,10.1 L21.5,16.3 L11.7,20.0 L-0.6,24.9 L-5.0,20.4 L-9.9,17.1 L-16.4,12.2 L-23.0,5.6 L-27.9,-0.9 L-31.2,-9.1 L-34.4,-18.9 L-34.4,-27.1Z" fill="#000096" />
<path d="M-21.0,-76.6 L-13.0,-78.6 L-5.0,-74.6 L1.0,-66.6 L3.0,-56.6 L-5.0,-51.6 L-15.0,-54.6 L-23.0,-62.6Z" fill="#89aaff" />
<path d="M-19.0,-74.6 L-11.0,-76.6 L-5.0,-70.6 L-3.0,-62.6 L-8.0,-56.6 L-15.0,-59.6 L-20.0,-66.6Z" fill="#b4cdff" />
<path d="M-17.0,-73.6 L-11.0,-74.6 L-8.0,-68.6 L-10.0,-62.6 L-15.0,-66.6Z" fill="#d8e9ff" />
<path d="M-47.5,-84.1 L-43.0,-91.1 L-37.0,-98.1 L-31.0,-105.1 L-25.5,-111.6 L-22.2,-114.6 L-21.2,-113.6 L-24.0,-109.1 L-29.5,-103.1 L-35.0,-96.6 L-40.5,-89.6 L-45.0,-83.1Z" fill="#4478ff" />
<path d="M-15.0,55.4 L-11.0,45.4 L-3.0,37.4 L7.0,33.4 L17.0,31.4 L27.0,27.4 L35.0,29.8 L42.0,29.8 L50.0,26.4 L56.0,40.4 L51.0,53.4 L31.0,53.4 L19.0,57.4 L15.0,67.4 L11.0,73.4 L1.0,75.4 L-9.0,73.4Z" fill="#b4cdff" />
<path d="M-13.0,44.4 L-7.0,36.4 L3.0,33.4 L15.0,31.4 L27.0,27.4 L35.0,29.8 L42.0,29.8 L50.0,26.4 L56.0,40.4 L47.0,47.4 L31.0,47.4 L19.0,49.4 L11.0,53.4 L1.0,55.4 L-7.0,53.4Z" fill="#89aaff" />
<path d="M3.0,41.4 L11.0,38.4 L21.0,37.4 L29.0,36.4 L36.0,38.4 L31.0,43.4 L19.0,45.4 L9.0,47.4Z" fill="#b4cdff" />
<path d="M-19.0,53.4 L-11.0,51.4 L-7.0,65.4 L-11.0,80.4 L-19.0,85.4 L-23.0,70.4Z" fill="#d8e9ff" />
<path d="M27.1,71.7 L29.0,67.7 L33.3,68.6 L34.7,75.0 L33.8,81.4 L35.0,84.9 L38.5,88.4 L41.0,92.2 L39.2,95.9 L40.1,101.4 L37.4,107.8 L31.0,109.6 L25.5,111.4 L21.0,111.9 L17.0,108.4 L20.6,102.0 L23.0,103.4 L26.3,102.6 L27.0,101.1 L27.7,96.2 L26.1,89.7 L25.3,84.8 L25.3,79.0Z" fill="#b4cdff" />
<path d="M27.0,81.4 L30.0,77.4 L32.0,85.4 L33.0,93.4 L30.0,99.4 L27.0,95.4Z" fill="#ffe7d6" />
<path d="M23.0,105.4 L29.0,104.4 L35.0,101.4 L37.0,105.4 L29.0,109.4 L22.0,110.4Z" fill="#89aaff" />
<path d="M1.0,95.4 L8.0,91.4 L11.0,98.4 L16.0,98.4 L19.0,103.4 L16.0,111.4 L11.0,117.4 L6.0,125.4 L-1.0,127.4 L-3.0,110.4Z" fill="#ffe7d6" />
<use href="#land" fill="none" stroke="#4478ff" stroke-width="2.6" stroke-opacity="0.75"/>
<use href="#land" fill="#fff"/>
<path d="M-32.0,69.4 L-29.0,67.4 L-25.0,67.9 L-20.0,68.9 L-18.0,71.4 L-19.0,74.9 L-22.0,77.9 L-28.0,78.9 L-31.0,76.4 L-30.0,73.4Z" fill="#4478ff" />
<path d="M-18.0,108.4 L-13.0,107.4 L-10.0,111.4 L-11.0,117.4 L-17.0,119.9 L-20.5,115.4Z" fill="#4478ff" />
<path d="M33.0,81.9 L35.0,84.0 L39.1,82.2 L43.7,78.5 L48.5,78.2 L47.6,83.2 L43.0,85.4 L39.0,86.9 L35.0,86.4Z" fill="#fff" />
<path d="M28.0,-89.6 L33.0,-94.1 L38.0,-99.1 L41.5,-105.6 L45.0,-111.1 L48.8,-113.1 L48.0,-107.6 L46.2,-101.5 L44.0,-97.6 L41.7,-94.5 L38.0,-92.6 L33.7,-90.9 L29.0,-89.1Z" fill="#1a4bff" />
<circle cx="-0.1" cy="0.7" r="3.8" fill="#fff"/>
<use href="#land" fill="none" stroke="#000" stroke-width="1.1"/>
<use href="#outl" fill="none" stroke="#000" stroke-width="1.0"/>
<use href="#dots" fill="#000"/>
</g></g>
<g transform="translate(359.5,654.4)"><g clip-path="url(#cc)">
<rect x="-130" y="-130" width="260" height="260" fill="#ffcab3"/>
<path d="M-129.0,-134.6 L151.0,-134.6 L151.0,-94.6 L71.0,-94.6 L51.0,-104.6 L31.0,-108.6 L11.0,-116.6 L-9.0,-116.6 L-29.0,-119.6 L-49.0,-112.6 L-69.0,-104.6 L-89.0,-99.6 L-109.0,-84.6 L-129.0,-74.6Z" fill="#ffa682" />
<path d="M-17.0,-116.6 L1.0,-119.6 L21.0,-118.6 L33.0,-114.6 L36.0,-104.6 L31.0,-92.6 L16.0,-88.6 L1.0,-90.6 L-11.0,-94.6 L-17.0,-104.6Z" fill="#ffcab3" />
<path d="M-13.0,-113.6 L3.0,-115.6 L21.0,-114.6 L31.0,-110.6 L33.0,-102.6 L27.0,-94.6 L11.0,-91.6 L-3.0,-93.6 L-11.0,-99.6Z" fill="#ffe7d6" />
<path d="M-6.2,-109.6 L5.0,-111.0 L19.0,-110.6 L27.0,-107.6 L27.0,-100.6 L19.0,-97.5 L5.0,-97.6 L-5.0,-99.6Z" fill="#d8e9ff" />
<path d="M7.3,-106.1 L13.0,-107.3 L17.2,-104.6 L16.0,-98.7 L9.0,-99.1Z" fill="#b4cdff" />
<path d="M-101.0,-94.6 L-89.0,-97.6 L-69.0,-96.6 L-52.0,-94.6 L-49.0,-84.6 L-57.0,-74.6 L-79.0,-72.6 L-99.0,-74.6Z" fill="#d8e9ff" />
<path d="M-92.0,-92.6 L-77.0,-94.6 L-59.0,-91.6 L-57.0,-82.6 L-61.0,-74.6 L-77.0,-73.6 L-91.0,-78.6Z" fill="#b4cdff" />
<path d="M-79.0,-87.6 L-69.0,-88.6 L-59.0,-84.6 L-59.0,-76.6 L-71.0,-74.6 L-79.0,-78.6Z" fill="#89aaff" />
<path d="M-74.0,-83.6 L-65.0,-84.6 L-61.0,-78.6 L-69.0,-75.6 L-74.0,-77.6Z" fill="#4478ff" />
<path d="M-52.0,-112.6 L-39.0,-116.6 L-27.0,-112.6 L-27.0,-99.6 L-34.0,-92.6 L-44.0,-89.6 L-52.0,-94.6Z" fill="#ffe7d6" />
<path d="M-49.0,-79.6 L-43.0,-86.6 L-37.0,-94.6 L-31.0,-104.6 L-26.0,-114.6 L-21.0,-117.6 L-20.0,-113.6 L-23.0,-106.6 L-29.0,-94.6 L-37.0,-84.6 L-43.0,-76.6Z" fill="#e43400" />
<path d="M-44.0,-81.6 L-37.0,-91.6 L-31.0,-101.6 L-25.0,-111.6 L-22.0,-113.6 L-29.0,-98.6 L-37.0,-86.6 L-42.0,-79.6Z" fill="#b42200" />
<path d="M-1.0,-84.6 L7.0,-90.6 L17.0,-93.6 L25.0,-94.6 L27.0,-90.6 L17.0,-88.6 L7.0,-84.6 L1.0,-79.6Z" fill="#e43400" />
<path d="M23.0,-82.6 L31.0,-89.6 L41.0,-96.6 L51.0,-104.6 L66.0,-104.6 L79.0,-98.6 L79.0,-76.6 L56.0,-72.6 L41.0,-80.6Z" fill="#e43400" />
<path d="M39.0,-92.6 L47.0,-100.6 L59.0,-102.6 L71.0,-98.6 L73.0,-86.6 L71.0,-78.6 L57.0,-76.6 L47.0,-82.6Z" fill="#ffcab3" />
<path d="M43.0,-94.6 L51.0,-99.6 L63.0,-98.6 L69.0,-92.6 L68.0,-82.6 L59.0,-79.6 L49.0,-84.6Z" fill="#b4cdff" />
<path d="M48.0,-94.6 L56.0,-96.6 L64.0,-92.6 L66.0,-84.6 L59.0,-81.6 L51.0,-86.6Z" fill="#89aaff" />
<path d="M52.0,-91.6 L59.0,-92.6 L63.0,-87.6 L59.0,-82.6 L54.0,-85.6Z" fill="#4478ff" />
<path d="M38.0,-110.6 L44.0,-113.6 L49.5,-113.6 L47.0,-104.6 L44.0,-96.6 L40.0,-91.6 L37.0,-94.6Z" fill="#8a0000" />
<path d="M-23.0,-94.6 L-13.0,-94.6 L-3.0,-86.6 L-1.0,-72.6 L-3.0,-58.6 L-13.0,-58.6 L-19.0,-72.6Z" fill="#ffcab3" />
<path d="M-22.0,-89.6 L-15.0,-90.1 L-10.0,-84.6 L-8.0,-74.6 L-10.0,-68.6 L-15.0,-72.6 L-19.0,-80.6Z" fill="#b4cdff" />
<path d="M-17.0,-84.6 L-13.0,-83.6 L-10.0,-76.6 L-12.0,-72.6 L-15.0,-76.6Z" fill="#89aaff" />
<path d="M-11.0,-78.6 L-3.0,-80.6 L0.0,-74.6 L-1.0,-68.6 L-9.0,-68.6Z" fill="#b42200" />
<path d="M-27.0,-68.6 L-11.0,-66.6 L7.0,-68.6 L23.0,-58.6 L37.0,-44.6 L49.0,-30.6 L51.0,-8.6 L59.0,17.4 L71.0,27.4 L56.0,35.4 L41.0,35.4 L26.0,37.4 L11.0,38.4 L-1.0,40.4 L-11.0,45.4 L-19.0,37.4 L-29.0,23.4 L-41.0,7.4 L-53.0,-0.6 L-69.0,-4.6 L-71.0,-18.6 L-65.0,-32.6 L-53.0,-44.6 L-37.0,-56.6Z" fill="#e43400" />
<path d="M-34.0,-54.6 L-19.0,-60.6 L1.0,-60.6 L17.0,-56.6 L29.0,-48.6 L37.0,-36.6 L41.0,-20.6 L43.0,-8.6 L39.0,3.4 L31.0,11.4 L19.0,19.4 L7.0,27.4 L-3.0,31.4 L-13.0,27.4 L-25.0,17.4 L-37.0,9.4 L-49.0,1.4 L-61.0,-4.6 L-65.0,-18.6 L-57.0,-34.6 L-45.0,-46.6Z" fill="#b42200" />
<path d="M-31.7,-31.8 L-21.8,-35.1 L-12.0,-38.4 L-0.6,-48.2 L9.3,-49.8 L12.5,-43.3 L15.8,-33.5 L20.7,-25.3 L25.6,-17.1 L27.3,-8.9 L24.0,-2.4 L17.4,2.5 L15.8,7.5 L18.0,13.4 L17.0,20.4 L11.0,24.4 L5.0,26.4 L-3.0,26.9 L-11.0,24.4 L-17.0,17.4 L-21.8,4.2 L-26.8,-2.4 L-30.0,-8.9 L-37.0,-4.6 L-49.0,-4.6 L-59.0,-9.6 L-61.0,-22.6 L-49.0,-30.6 L-39.0,-32.6Z" fill="#8a0000" />
<path d="M-15.0,-64.6 L-7.0,-67.6 L3.0,-63.6 L11.0,-60.6 L19.0,-56.6 L15.0,-50.6 L1.0,-48.6 L-11.0,-52.6Z" fill="#8a0000" />
<path d="M31.0,-32.6 L37.0,-35.6 L42.0,-28.6 L40.0,-21.6 L34.0,-22.6Z" fill="#ff7a45" />
<path d="M33.0,-30.6 L37.0,-31.6 L39.0,-26.6 L35.0,-24.6Z" fill="#ffa682" />
<path d="M11.0,17.4 L26.0,11.4 L39.0,9.4 L51.0,15.4 L59.0,27.4 L56.0,45.4 L46.0,55.4 L31.0,55.4 L16.0,55.4 L6.0,47.4 L7.0,33.4Z" fill="#ff7a45" />
<path d="M26.0,17.4 L39.0,13.4 L51.0,17.4 L57.0,27.4 L51.0,40.4 L41.0,45.4 L31.0,41.4Z" fill="#ff501a" />
<path d="M11.0,27.4 L23.0,25.4 L29.0,37.4 L26.0,49.4 L16.0,53.4 L9.0,45.4Z" fill="#ffa682" />
<path d="M23.4,23.4 L27.0,19.8 L33.0,20.4 L35.6,25.4 L34.0,32.4 L29.0,35.1 L24.0,31.4Z" fill="#b4cdff" />
<path d="M25.5,23.4 L29.0,22.4 L32.0,25.4 L30.0,29.4 L26.5,28.4Z" fill="#89aaff" />
<path d="M-19.0,21.4 L-9.0,21.4 L1.0,23.4 L7.0,27.4 L9.0,40.4 L5.0,53.4 L-3.0,59.4 L-11.0,55.4 L-17.0,45.4Z" fill="#e43400" />
<path d="M-3.0,31.4 L1.0,29.4 L7.0,31.4 L11.0,40.4 L11.0,55.4 L7.0,61.4 L-1.0,59.4 L-3.0,47.4Z" fill="#d8e9ff" />
<path d="M1.0,37.4 L4.0,35.4 L6.0,45.4 L5.0,57.4 L2.0,55.4Z" fill="#ffcab3" />
<path d="M-106.0,73.4 L-97.0,60.4 L-87.0,45.4 L-81.0,39.4 L-75.0,43.4 L-69.0,51.4 L-57.0,55.4 L-37.0,57.4 L-19.0,53.4 L-5.0,43.4 L5.0,35.4 L17.0,45.4 L19.0,75.4 L11.0,100.4 L-4.0,105.4 L-29.0,107.4 L-59.0,110.4 L-84.0,105.4 L-99.0,90.4Z" fill="#d8e9ff" />
<path d="M-87.0,47.4 L-83.0,41.4 L-77.0,43.4 L-73.0,51.4 L-79.0,55.4 L-85.0,53.4Z" fill="#ffe7d6" />
<path d="M-93.0,61.4 L-84.0,58.8 L-77.2,62.9 L-69.0,69.7 L-63.6,71.1 L-55.4,68.4 L-47.2,65.6 L-36.3,64.3 L-30.8,67.0 L-23.0,61.4 L-17.0,53.4 L-7.0,47.4 L3.0,43.4 L11.0,51.4 L15.0,67.4 L11.0,85.4 L6.0,97.4 L-10.4,98.7 L-21.1,100.5 L-38.8,105.8 L-53.0,107.6 L-67.2,104.0 L-77.8,102.2 L-88.5,93.4 L-95.0,80.4Z" fill="#b4cdff" />
<path d="M-85.4,67.0 L-74.5,65.6 L-66.3,71.1 L-59.5,73.8 L-52.7,69.7 L-44.5,67.0 L-36.3,65.6 L-32.2,71.1 L-30.8,80.6 L-28.1,87.4 L-22.6,90.2 L-17.2,92.9 L-28.1,95.6 L-39.0,99.7 L-49.9,99.7 L-59.5,95.6 L-70.4,90.2 L-80.0,87.4 L-84.0,82.0 L-86.8,73.8Z" fill="#89aaff" />
<path d="M-7.0,55.4 L1.0,58.4 L11.0,58.4 L15.0,65.4 L14.0,77.4 L11.0,85.4 L3.0,87.4 L-5.0,81.4 L-9.0,67.4Z" fill="#89aaff" />
<path d="M0.9,68.4 L5.0,67.7 L9.1,70.4 L8.5,76.9 L2.0,76.4Z" fill="#4478ff" />
<path d="M11.0,59.4 L17.0,55.4 L19.0,65.4 L15.0,80.4 L11.0,90.4 L8.0,85.4 L13.0,73.4Z" fill="#ffa682" />
<path d="M-63.6,77.9 L-58.1,73.8 L-49.9,69.7 L-40.4,67.0 L-34.9,71.1 L-33.6,79.3 L-32.2,90.2 L-39.0,95.6 L-47.2,95.6 L-55.4,91.5 L-60.8,86.1Z" fill="#4478ff" />
<path d="M-48.6,75.2 L-44.5,72.4 L-37.7,73.8 L-36.3,80.6 L-39.0,86.1 L-44.5,83.4 L-48.6,80.6Z" fill="#1a4bff" />
<path d="M-111.0,65.4 L-101.0,67.4 L-93.0,71.4 L-87.0,77.4 L-85.0,85.4 L-91.0,93.4 L-99.0,95.4 L-109.0,89.4Z" fill="#ffe7d6" />
<path d="M-111.0,67.4 L-103.0,69.4 L-97.0,73.4 L-93.0,81.4 L-97.0,89.4 L-105.0,89.4 L-111.0,81.4Z" fill="#ffcab3" />
<path d="M-27.0,61.4 L-17.0,59.4 L-10.0,65.4 L-9.0,75.4 L-15.0,82.4 L-25.0,81.4 L-31.0,73.4Z" fill="#ffa682" />
<path d="M-31.0,69.4 L-26.0,67.4 L-20.0,68.9 L-18.0,73.4 L-22.0,77.9 L-28.0,78.9 L-31.0,75.4Z" fill="#b42200" />
<path d="M-69.0,65.4 L-63.0,55.4 L-55.0,51.4 L-45.0,51.4 L-31.0,55.4 L-19.0,51.4 L-11.0,40.4 L-7.0,25.4 L-11.0,17.4 L-19.0,37.4 L-31.0,59.4 L-49.0,59.4 L-63.0,68.4Z" fill="#e43400" />
<path d="M-71.0,45.4 L-65.0,37.4 L-55.0,31.4 L-45.0,27.4 L-41.0,37.4 L-49.0,45.4 L-59.0,51.4 L-69.0,55.4Z" fill="#ff7a45" />
<path d="M-107.0,67.4 L-101.0,60.4 L-95.0,51.4 L-91.0,41.4 L-85.0,35.4 L-79.0,37.4 L-85.0,47.4 L-91.0,57.4 L-97.0,67.4 L-103.0,77.4Z" fill="#ffa682" />
<path d="M-121.3,20.9 L-115.8,16.8 L-106.3,15.4 L-104.9,4.5 L-103.5,-3.7 L-98.1,-7.8 L-91.3,-7.1 L-85.8,-3.7 L-81.7,1.8 L-76.3,5.9 L-79.0,20.9 L-91.3,20.9 L-99.4,23.6 L-110.4,23.6 L-121.3,22.2Z" fill="#ff7a45" />
<path d="M-119.0,20.4 L-111.0,17.4 L-105.0,11.4 L-97.0,7.4 L-91.0,11.4 L-97.0,19.4 L-109.0,22.4Z" fill="#ffa682" />
<path d="M-91.0,-4.6 L-84.0,-0.6 L-79.0,5.4 L-85.0,11.4 L-91.0,5.4Z" fill="#e43400" />
<path d="M-85.0,5.4 L-74.0,2.4 L-61.0,1.4 L-49.0,0.4 L-39.0,3.4 L-41.0,17.4 L-47.0,27.4 L-57.0,33.4 L-71.0,37.4 L-83.0,37.4 L-85.0,21.4Z" fill="#e43400" />
<path d="M-79.0,19.4 L-69.0,13.4 L-57.0,9.4 L-45.0,7.4 L-43.0,13.4 L-53.0,21.4 L-65.0,27.4 L-77.0,31.4Z" fill="#ff501a" />
<path d="M-69.0,17.4 L-57.0,13.4 L-49.0,11.4 L-53.0,17.4 L-63.0,23.4Z" fill="#ffa682" />
<path d="M-83.0,3.4 L-75.0,2.4 L-65.0,1.4 L-61.0,5.4 L-65.0,13.4 L-73.0,16.4 L-81.0,13.4Z" fill="#b42200" />
<path d="M-79.0,5.4 L-71.0,4.4 L-65.0,5.4 L-69.0,11.4 L-77.0,12.4Z" fill="#8a0000" />
<path d="M-92.0,33.4 L-86.0,31.4 L-82.0,35.4 L-85.0,41.4 L-91.0,41.4Z" fill="#b42200" />
<path d="M-34.0,107.4 L-19.0,101.4 L-5.0,95.4 L11.0,93.4 L21.0,105.4 L16.0,130.4 L-39.0,130.4Z" fill="#ffcab3" />
<path d="M-25.0,107.4 L-17.0,103.4 L-7.0,101.4 L-1.0,107.4 L1.0,117.4 L-5.0,125.4 L-21.0,125.4 L-27.0,117.4Z" fill="#ff7a45" />
<path d="M-23.0,106.4 L-13.0,105.4 L-9.0,111.4 L-10.0,117.4 L-16.0,121.4 L-22.0,116.4Z" fill="#e43400" />
<path d="M27.1,71.7 L29.0,67.7 L33.3,68.6 L34.7,75.0 L33.8,81.4 L35.0,84.9 L38.5,88.4 L41.0,92.2 L39.2,95.9 L40.1,101.4 L37.4,107.8 L31.0,109.6 L25.5,111.4 L21.0,111.9 L17.0,108.4 L20.6,102.0 L23.0,103.4 L26.3,102.6 L27.0,101.1 L27.7,96.2 L26.1,89.7 L25.3,84.8 L25.3,79.0Z" fill="#8a0000" />
<path d="M29.0,77.4 L31.0,75.4 L32.0,83.4 L35.0,91.4 L36.0,99.4 L32.0,103.4 L29.0,97.4 L28.5,87.4Z" fill="#e43400" />
<path d="M30.0,85.4 L32.0,84.4 L34.0,93.4 L32.0,98.4 L30.0,93.4Z" fill="#ff501a" />
<path d="M1.0,95.4 L8.0,91.4 L11.0,98.4 L16.0,98.4 L19.0,103.4 L16.0,111.4 L11.0,117.4 L6.0,125.4 L-1.0,127.4 L-3.0,110.4Z" fill="#ff7a45" />
<path d="M5.0,99.4 L11.0,97.4 L15.0,103.4 L11.0,111.4 L5.0,115.4Z" fill="#ffa682" />
<use href="#land" fill="none" stroke="#e43400" stroke-width="5"/>
<use href="#land" fill="none" stroke="#b42200" stroke-width="2.8"/>
<use href="#land" fill="#fff"/>
<path d="M-18.0,108.4 L-13.0,107.4 L-10.0,111.4 L-11.0,117.4 L-17.0,119.9 L-20.5,115.4Z" fill="#8a0000" />
<path d="M-32.0,69.4 L-29.0,67.4 L-25.0,67.9 L-20.0,68.9 L-18.0,71.4 L-19.0,74.9 L-22.0,77.9 L-28.0,78.9 L-31.0,76.4 L-30.0,73.4Z" fill="#b42200" />
<path d="M33.0,81.9 L35.0,84.0 L39.1,82.2 L43.7,78.5 L48.5,78.2 L47.6,83.2 L43.0,85.4 L39.0,86.9 L35.0,86.4Z" fill="#fff" />
<path d="M28.0,-89.6 L33.0,-94.1 L38.0,-99.1 L41.5,-105.6 L45.0,-111.1 L48.8,-113.1 L48.0,-107.6 L46.2,-101.5 L44.0,-97.6 L41.7,-94.5 L38.0,-92.6 L33.7,-90.9 L29.0,-89.1Z" fill="#8a0000" />
<circle cx="-0.1" cy="0.7" r="3.8" fill="#fff"/>
<use href="#land" fill="none" stroke="#000" stroke-width="1.1"/>
<use href="#outl" fill="none" stroke="#000" stroke-width="1.0"/>
<use href="#dots" fill="#000"/>
</g></g>
<circle cx="230.3" cy="244.9" r="126.75" fill="none" stroke="#000" stroke-width="0.9"/>
<circle cx="489.0" cy="244.6" r="126.75" fill="none" stroke="#000" stroke-width="0.9"/>
<circle cx="359.5" cy="654.4" r="126.75" fill="none" stroke="#000" stroke-width="0.9"/>
</svg></body></html>
